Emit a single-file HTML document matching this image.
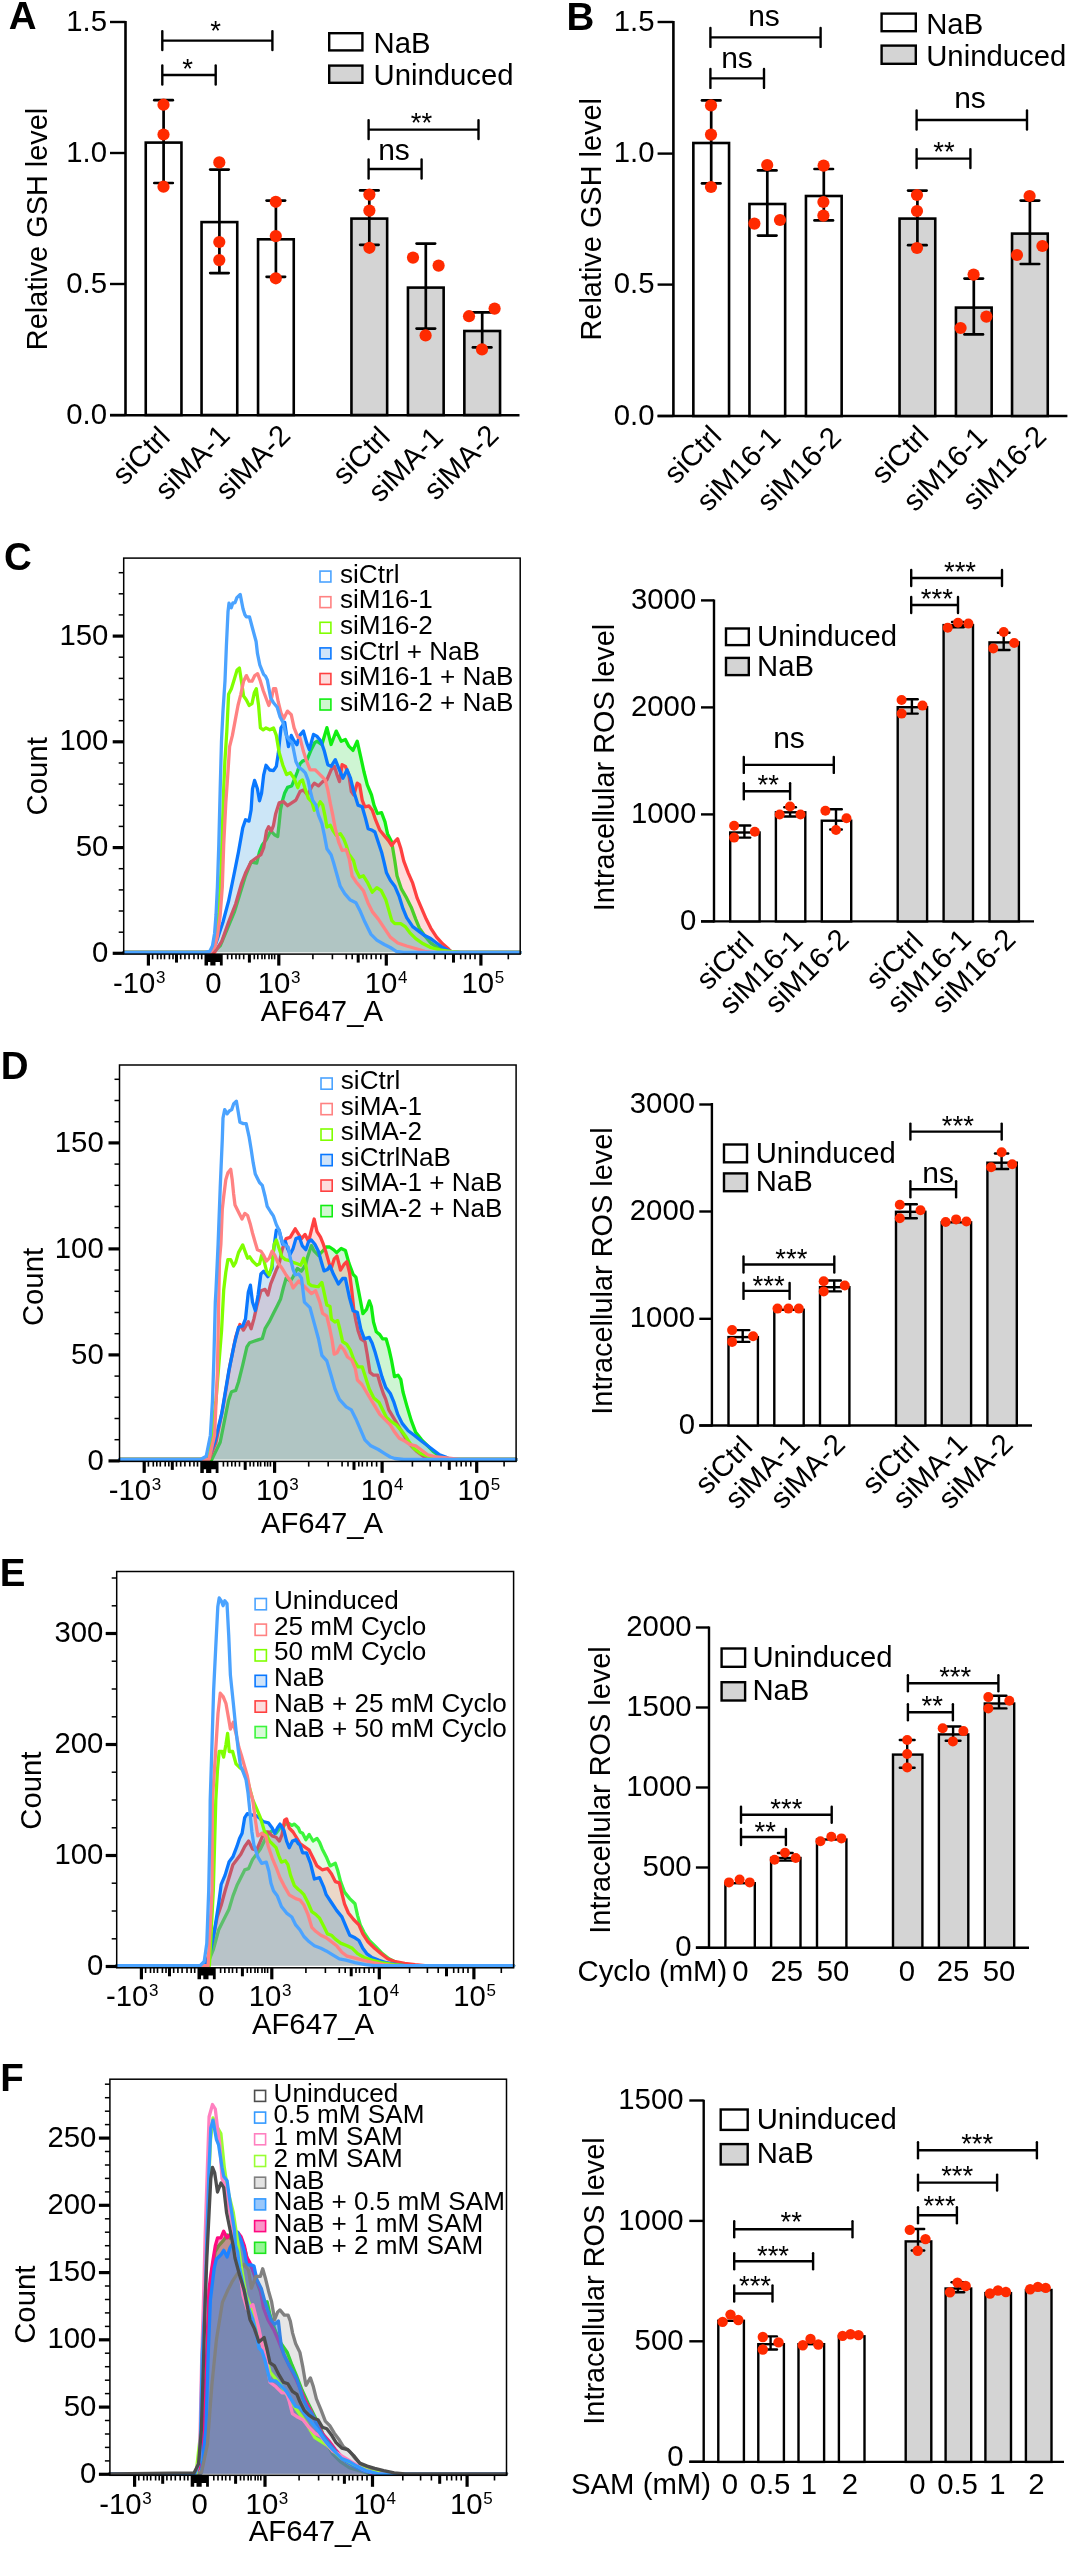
<!DOCTYPE html><html><head><meta charset="utf-8"><style>html,body{margin:0;padding:0;background:#fff;}svg{display:block;font-family:"Liberation Sans",sans-serif;-webkit-font-smoothing:antialiased;will-change:transform;}</style></head><body>
<svg width="1070" height="2550" viewBox="0 0 1070 2550">
<rect width="1070" height="2550" fill="#fff"/>
<text font-size="38.5" text-anchor="start" font-weight="bold" transform="translate(8.70,28.90) scale(1,1.0)">A</text>
<line x1="125.5" y1="21.0" x2="125.5" y2="416.0" stroke="#000" stroke-width="2.6" stroke-linecap="butt"/>
<line x1="110.0" y1="22.0" x2="125.5" y2="22.0" stroke="#000" stroke-width="2.4" stroke-linecap="butt"/>
<text font-size="29.3" text-anchor="end" font-weight="normal" transform="translate(107.00,30.60) scale(1,1.0)">1.5</text>
<line x1="110.0" y1="153.0" x2="125.5" y2="153.0" stroke="#000" stroke-width="2.4" stroke-linecap="butt"/>
<text font-size="29.3" text-anchor="end" font-weight="normal" transform="translate(107.00,161.60) scale(1,1.0)">1.0</text>
<line x1="110.0" y1="284.0" x2="125.5" y2="284.0" stroke="#000" stroke-width="2.4" stroke-linecap="butt"/>
<text font-size="29.3" text-anchor="end" font-weight="normal" transform="translate(107.00,292.60) scale(1,1.0)">0.5</text>
<line x1="110.0" y1="415.0" x2="125.5" y2="415.0" stroke="#000" stroke-width="2.4" stroke-linecap="butt"/>
<text font-size="29.3" text-anchor="end" font-weight="normal" transform="translate(107.00,423.60) scale(1,1.0)">0.0</text>
<line x1="110.0" y1="415.3" x2="519.5" y2="415.3" stroke="#000" stroke-width="2.6" stroke-linecap="butt"/>
<text font-size="28.9" text-anchor="middle" font-weight="normal" transform="translate(47.30,229.00) rotate(-90) scale(1,1.0)">Relative GSH level</text>
<rect x="145.75" y="142.60" width="35.70" height="272.40" fill="#fff" stroke="#000" stroke-width="2.6"/>
<rect x="201.55" y="222.10" width="35.70" height="192.90" fill="#fff" stroke="#000" stroke-width="2.6"/>
<rect x="258.05" y="239.30" width="35.70" height="175.70" fill="#fff" stroke="#000" stroke-width="2.6"/>
<rect x="351.45" y="218.60" width="35.70" height="196.40" fill="#d4d4d4" stroke="#000" stroke-width="2.6"/>
<rect x="407.95" y="287.60" width="35.70" height="127.40" fill="#d4d4d4" stroke="#000" stroke-width="2.6"/>
<rect x="464.35" y="331.00" width="35.70" height="84.00" fill="#d4d4d4" stroke="#000" stroke-width="2.6"/>
<line x1="163.6" y1="100.2" x2="163.6" y2="183.0" stroke="#000" stroke-width="2.7" stroke-linecap="butt"/>
<line x1="154.3" y1="100.2" x2="172.8" y2="100.2" stroke="#000" stroke-width="2.7" stroke-linecap="round"/>
<line x1="154.3" y1="183.0" x2="172.8" y2="183.0" stroke="#000" stroke-width="2.7" stroke-linecap="round"/>
<line x1="219.4" y1="169.6" x2="219.4" y2="273.1" stroke="#000" stroke-width="2.7" stroke-linecap="butt"/>
<line x1="210.2" y1="169.6" x2="228.7" y2="169.6" stroke="#000" stroke-width="2.7" stroke-linecap="round"/>
<line x1="210.2" y1="273.1" x2="228.7" y2="273.1" stroke="#000" stroke-width="2.7" stroke-linecap="round"/>
<line x1="275.9" y1="200.6" x2="275.9" y2="276.8" stroke="#000" stroke-width="2.7" stroke-linecap="butt"/>
<line x1="266.6" y1="200.6" x2="285.1" y2="200.6" stroke="#000" stroke-width="2.7" stroke-linecap="round"/>
<line x1="266.6" y1="276.8" x2="285.1" y2="276.8" stroke="#000" stroke-width="2.7" stroke-linecap="round"/>
<line x1="369.3" y1="190.4" x2="369.3" y2="244.8" stroke="#000" stroke-width="2.7" stroke-linecap="butt"/>
<line x1="360.1" y1="190.4" x2="378.6" y2="190.4" stroke="#000" stroke-width="2.7" stroke-linecap="round"/>
<line x1="360.1" y1="244.8" x2="378.6" y2="244.8" stroke="#000" stroke-width="2.7" stroke-linecap="round"/>
<line x1="425.8" y1="243.6" x2="425.8" y2="328.6" stroke="#000" stroke-width="2.7" stroke-linecap="butt"/>
<line x1="416.6" y1="243.6" x2="435.1" y2="243.6" stroke="#000" stroke-width="2.7" stroke-linecap="round"/>
<line x1="416.6" y1="328.6" x2="435.1" y2="328.6" stroke="#000" stroke-width="2.7" stroke-linecap="round"/>
<line x1="482.2" y1="312.4" x2="482.2" y2="347.4" stroke="#000" stroke-width="2.7" stroke-linecap="butt"/>
<line x1="472.9" y1="312.4" x2="491.4" y2="312.4" stroke="#000" stroke-width="2.7" stroke-linecap="round"/>
<line x1="472.9" y1="347.4" x2="491.4" y2="347.4" stroke="#000" stroke-width="2.7" stroke-linecap="round"/>
<circle cx="163.5" cy="104.7" r="6.1" fill="#ff2a00"/>
<circle cx="163.5" cy="134.5" r="6.1" fill="#ff2a00"/>
<circle cx="163.5" cy="186.7" r="6.1" fill="#ff2a00"/>
<circle cx="219.3" cy="162.4" r="6.1" fill="#ff2a00"/>
<circle cx="219.3" cy="242.0" r="6.1" fill="#ff2a00"/>
<circle cx="219.3" cy="260.1" r="6.1" fill="#ff2a00"/>
<circle cx="275.8" cy="201.8" r="6.1" fill="#ff2a00"/>
<circle cx="275.8" cy="236.1" r="6.1" fill="#ff2a00"/>
<circle cx="275.8" cy="278.3" r="6.1" fill="#ff2a00"/>
<circle cx="369.4" cy="194.6" r="6.1" fill="#ff2a00"/>
<circle cx="369.4" cy="210.6" r="6.1" fill="#ff2a00"/>
<circle cx="369.4" cy="247.8" r="6.1" fill="#ff2a00"/>
<circle cx="413.0" cy="257.6" r="6.1" fill="#ff2a00"/>
<circle cx="438.6" cy="265.6" r="6.1" fill="#ff2a00"/>
<circle cx="425.6" cy="335.4" r="6.1" fill="#ff2a00"/>
<circle cx="469.0" cy="316.2" r="6.1" fill="#ff2a00"/>
<circle cx="494.6" cy="308.6" r="6.1" fill="#ff2a00"/>
<circle cx="482.0" cy="349.4" r="6.1" fill="#ff2a00"/>
<line x1="162.3" y1="40.6" x2="272.4" y2="40.6" stroke="#000" stroke-width="2.4" stroke-linecap="butt"/>
<line x1="162.3" y1="31.1" x2="162.3" y2="50.1" stroke="#000" stroke-width="2.4" stroke-linecap="round"/>
<line x1="272.4" y1="31.1" x2="272.4" y2="50.1" stroke="#000" stroke-width="2.4" stroke-linecap="round"/>
<text font-size="27.5" text-anchor="middle" font-weight="normal" transform="translate(215.70,40.40) scale(1,1.0)">*</text>
<line x1="162.3" y1="75.0" x2="215.7" y2="75.0" stroke="#000" stroke-width="2.4" stroke-linecap="butt"/>
<line x1="162.3" y1="65.5" x2="162.3" y2="84.5" stroke="#000" stroke-width="2.4" stroke-linecap="round"/>
<line x1="215.7" y1="65.5" x2="215.7" y2="84.5" stroke="#000" stroke-width="2.4" stroke-linecap="round"/>
<text font-size="27.5" text-anchor="middle" font-weight="normal" transform="translate(187.50,77.50) scale(1,1.0)">*</text>
<line x1="368.6" y1="129.6" x2="478.5" y2="129.6" stroke="#000" stroke-width="2.4" stroke-linecap="butt"/>
<line x1="368.6" y1="120.1" x2="368.6" y2="139.1" stroke="#000" stroke-width="2.4" stroke-linecap="round"/>
<line x1="478.5" y1="120.1" x2="478.5" y2="139.1" stroke="#000" stroke-width="2.4" stroke-linecap="round"/>
<text font-size="27.5" text-anchor="middle" font-weight="normal" transform="translate(421.50,131.50) scale(1,1.0)">**</text>
<line x1="368.6" y1="169.0" x2="421.6" y2="169.0" stroke="#000" stroke-width="2.4" stroke-linecap="butt"/>
<line x1="368.6" y1="159.5" x2="368.6" y2="178.5" stroke="#000" stroke-width="2.4" stroke-linecap="round"/>
<line x1="421.6" y1="159.5" x2="421.6" y2="178.5" stroke="#000" stroke-width="2.4" stroke-linecap="round"/>
<text font-size="30" text-anchor="middle" font-weight="normal" transform="translate(394.00,160.00) scale(1,1.0)">ns</text>
<rect x="329.2" y="33.2" width="33.2" height="17.2" fill="#fff" stroke="#000" stroke-width="2.4"/>
<rect x="329.2" y="65.6" width="33.2" height="17.2" fill="#d4d4d4" stroke="#000" stroke-width="2.4"/>
<text font-size="29.3" text-anchor="start" font-weight="normal" transform="translate(373.50,53.00) scale(1,1.0)">NaB</text>
<text font-size="29.3" text-anchor="start" font-weight="normal" transform="translate(373.50,85.00) scale(1,1.0)">Uninduced</text>
<text font-size="29.3" text-anchor="end" font-weight="normal" transform="translate(171.50,439.00) rotate(-45) scale(1,1.0)">siCtrl</text>
<text font-size="29.3" text-anchor="end" font-weight="normal" transform="translate(231.40,437.00) rotate(-45) scale(1,1.0)">siMA-1</text>
<text font-size="29.3" text-anchor="end" font-weight="normal" transform="translate(291.90,437.00) rotate(-45) scale(1,1.0)">siMA-2</text>
<text font-size="29.3" text-anchor="end" font-weight="normal" transform="translate(391.60,439.00) rotate(-45) scale(1,1.0)">siCtrl</text>
<text font-size="29.3" text-anchor="end" font-weight="normal" transform="translate(444.80,439.00) rotate(-45) scale(1,1.0)">siMA-1</text>
<text font-size="29.3" text-anchor="end" font-weight="normal" transform="translate(500.20,437.00) rotate(-45) scale(1,1.0)">siMA-2</text>
<text font-size="38.5" text-anchor="start" font-weight="bold" transform="translate(566.50,30.00) scale(1,1.0)">B</text>
<line x1="673.4" y1="21.0" x2="673.4" y2="417.0" stroke="#000" stroke-width="2.6" stroke-linecap="butt"/>
<line x1="657.6" y1="22.0" x2="673.4" y2="22.0" stroke="#000" stroke-width="2.4" stroke-linecap="butt"/>
<text font-size="29.3" text-anchor="end" font-weight="normal" transform="translate(654.50,30.60) scale(1,1.0)">1.5</text>
<line x1="657.6" y1="153.6" x2="673.4" y2="153.6" stroke="#000" stroke-width="2.4" stroke-linecap="butt"/>
<text font-size="29.3" text-anchor="end" font-weight="normal" transform="translate(654.50,162.20) scale(1,1.0)">1.0</text>
<line x1="657.6" y1="284.6" x2="673.4" y2="284.6" stroke="#000" stroke-width="2.4" stroke-linecap="butt"/>
<text font-size="29.3" text-anchor="end" font-weight="normal" transform="translate(654.50,293.20) scale(1,1.0)">0.5</text>
<line x1="657.6" y1="416.0" x2="673.4" y2="416.0" stroke="#000" stroke-width="2.4" stroke-linecap="butt"/>
<text font-size="29.3" text-anchor="end" font-weight="normal" transform="translate(654.50,424.60) scale(1,1.0)">0.0</text>
<line x1="657.6" y1="416.0" x2="1067.4" y2="416.0" stroke="#000" stroke-width="2.6" stroke-linecap="butt"/>
<text font-size="28.9" text-anchor="middle" font-weight="normal" transform="translate(601.20,219.30) rotate(-90) scale(1,1.0)">Relative GSH level</text>
<rect x="693.35" y="143.00" width="35.70" height="273.00" fill="#fff" stroke="#000" stroke-width="2.6"/>
<rect x="749.45" y="204.00" width="35.70" height="212.00" fill="#fff" stroke="#000" stroke-width="2.6"/>
<rect x="805.95" y="196.00" width="35.70" height="220.00" fill="#fff" stroke="#000" stroke-width="2.6"/>
<rect x="899.55" y="218.60" width="35.70" height="197.40" fill="#d4d4d4" stroke="#000" stroke-width="2.6"/>
<rect x="955.95" y="307.60" width="35.70" height="108.40" fill="#d4d4d4" stroke="#000" stroke-width="2.6"/>
<rect x="1012.05" y="233.60" width="35.70" height="182.40" fill="#d4d4d4" stroke="#000" stroke-width="2.6"/>
<line x1="711.2" y1="100.4" x2="711.2" y2="183.4" stroke="#000" stroke-width="2.7" stroke-linecap="butt"/>
<line x1="702.0" y1="100.4" x2="720.5" y2="100.4" stroke="#000" stroke-width="2.7" stroke-linecap="round"/>
<line x1="702.0" y1="183.4" x2="720.5" y2="183.4" stroke="#000" stroke-width="2.7" stroke-linecap="round"/>
<line x1="767.3" y1="170.4" x2="767.3" y2="235.6" stroke="#000" stroke-width="2.7" stroke-linecap="butt"/>
<line x1="758.0" y1="170.4" x2="776.5" y2="170.4" stroke="#000" stroke-width="2.7" stroke-linecap="round"/>
<line x1="758.0" y1="235.6" x2="776.5" y2="235.6" stroke="#000" stroke-width="2.7" stroke-linecap="round"/>
<line x1="823.8" y1="169.0" x2="823.8" y2="220.4" stroke="#000" stroke-width="2.7" stroke-linecap="butt"/>
<line x1="814.5" y1="169.0" x2="833.0" y2="169.0" stroke="#000" stroke-width="2.7" stroke-linecap="round"/>
<line x1="814.5" y1="220.4" x2="833.0" y2="220.4" stroke="#000" stroke-width="2.7" stroke-linecap="round"/>
<line x1="917.4" y1="190.6" x2="917.4" y2="245.2" stroke="#000" stroke-width="2.7" stroke-linecap="butt"/>
<line x1="908.1" y1="190.6" x2="926.6" y2="190.6" stroke="#000" stroke-width="2.7" stroke-linecap="round"/>
<line x1="908.1" y1="245.2" x2="926.6" y2="245.2" stroke="#000" stroke-width="2.7" stroke-linecap="round"/>
<line x1="973.8" y1="278.6" x2="973.8" y2="334.4" stroke="#000" stroke-width="2.7" stroke-linecap="butt"/>
<line x1="964.5" y1="278.6" x2="983.0" y2="278.6" stroke="#000" stroke-width="2.7" stroke-linecap="round"/>
<line x1="964.5" y1="334.4" x2="983.0" y2="334.4" stroke="#000" stroke-width="2.7" stroke-linecap="round"/>
<line x1="1029.9" y1="200.6" x2="1029.9" y2="264.0" stroke="#000" stroke-width="2.7" stroke-linecap="butt"/>
<line x1="1020.7" y1="200.6" x2="1039.2" y2="200.6" stroke="#000" stroke-width="2.7" stroke-linecap="round"/>
<line x1="1020.7" y1="264.0" x2="1039.2" y2="264.0" stroke="#000" stroke-width="2.7" stroke-linecap="round"/>
<circle cx="711.0" cy="105.4" r="6.1" fill="#ff2a00"/>
<circle cx="711.0" cy="134.6" r="6.1" fill="#ff2a00"/>
<circle cx="711.0" cy="187.0" r="6.1" fill="#ff2a00"/>
<circle cx="767.2" cy="165.0" r="6.1" fill="#ff2a00"/>
<circle cx="754.4" cy="223.6" r="6.1" fill="#ff2a00"/>
<circle cx="780.0" cy="220.0" r="6.1" fill="#ff2a00"/>
<circle cx="823.6" cy="165.6" r="6.1" fill="#ff2a00"/>
<circle cx="823.4" cy="202.0" r="6.1" fill="#ff2a00"/>
<circle cx="823.4" cy="215.6" r="6.1" fill="#ff2a00"/>
<circle cx="917.0" cy="195.0" r="6.1" fill="#ff2a00"/>
<circle cx="917.0" cy="211.0" r="6.1" fill="#ff2a00"/>
<circle cx="917.0" cy="248.0" r="6.1" fill="#ff2a00"/>
<circle cx="973.6" cy="274.6" r="6.1" fill="#ff2a00"/>
<circle cx="986.4" cy="316.6" r="6.1" fill="#ff2a00"/>
<circle cx="960.6" cy="328.0" r="6.1" fill="#ff2a00"/>
<circle cx="1029.6" cy="196.0" r="6.1" fill="#ff2a00"/>
<circle cx="1042.4" cy="246.0" r="6.1" fill="#ff2a00"/>
<circle cx="1017.0" cy="255.0" r="6.1" fill="#ff2a00"/>
<line x1="710.4" y1="37.4" x2="820.6" y2="37.4" stroke="#000" stroke-width="2.4" stroke-linecap="butt"/>
<line x1="710.4" y1="27.9" x2="710.4" y2="46.9" stroke="#000" stroke-width="2.4" stroke-linecap="round"/>
<line x1="820.6" y1="27.9" x2="820.6" y2="46.9" stroke="#000" stroke-width="2.4" stroke-linecap="round"/>
<text font-size="30" text-anchor="middle" font-weight="normal" transform="translate(764.00,25.60) scale(1,1.0)">ns</text>
<line x1="710.4" y1="78.4" x2="764.0" y2="78.4" stroke="#000" stroke-width="2.4" stroke-linecap="butt"/>
<line x1="710.4" y1="68.9" x2="710.4" y2="87.9" stroke="#000" stroke-width="2.4" stroke-linecap="round"/>
<line x1="764.0" y1="68.9" x2="764.0" y2="87.9" stroke="#000" stroke-width="2.4" stroke-linecap="round"/>
<text font-size="30" text-anchor="middle" font-weight="normal" transform="translate(737.00,68.00) scale(1,1.0)">ns</text>
<line x1="916.6" y1="120.0" x2="1027.0" y2="120.0" stroke="#000" stroke-width="2.4" stroke-linecap="butt"/>
<line x1="916.6" y1="110.5" x2="916.6" y2="129.5" stroke="#000" stroke-width="2.4" stroke-linecap="round"/>
<line x1="1027.0" y1="110.5" x2="1027.0" y2="129.5" stroke="#000" stroke-width="2.4" stroke-linecap="round"/>
<text font-size="30" text-anchor="middle" font-weight="normal" transform="translate(970.00,108.00) scale(1,1.0)">ns</text>
<line x1="916.6" y1="158.6" x2="970.4" y2="158.6" stroke="#000" stroke-width="2.4" stroke-linecap="butt"/>
<line x1="916.6" y1="149.1" x2="916.6" y2="168.1" stroke="#000" stroke-width="2.4" stroke-linecap="round"/>
<line x1="970.4" y1="149.1" x2="970.4" y2="168.1" stroke="#000" stroke-width="2.4" stroke-linecap="round"/>
<text font-size="27.5" text-anchor="middle" font-weight="normal" transform="translate(944.00,161.40) scale(1,1.0)">**</text>
<rect x="881.6" y="13.6" width="34.2" height="17.6" fill="#fff" stroke="#000" stroke-width="2.4"/>
<rect x="881.6" y="45.6" width="34.2" height="18.2" fill="#d4d4d4" stroke="#000" stroke-width="2.4"/>
<text font-size="29.3" text-anchor="start" font-weight="normal" transform="translate(926.20,34.00) scale(1,1.0)">NaB</text>
<text font-size="29.3" text-anchor="start" font-weight="normal" transform="translate(926.20,66.00) scale(1,1.0)">Uninduced</text>
<text font-size="29.3" text-anchor="end" font-weight="normal" transform="translate(723.20,438.00) rotate(-45) scale(1,1.0)">siCtrl</text>
<text font-size="29.3" text-anchor="end" font-weight="normal" transform="translate(782.30,439.00) rotate(-45) scale(1,1.0)">siM16-1</text>
<text font-size="29.3" text-anchor="end" font-weight="normal" transform="translate(842.80,439.00) rotate(-45) scale(1,1.0)">siM16-2</text>
<text font-size="29.3" text-anchor="end" font-weight="normal" transform="translate(930.40,438.00) rotate(-45) scale(1,1.0)">siCtrl</text>
<text font-size="29.3" text-anchor="end" font-weight="normal" transform="translate(988.80,439.00) rotate(-45) scale(1,1.0)">siM16-1</text>
<text font-size="29.3" text-anchor="end" font-weight="normal" transform="translate(1047.90,438.00) rotate(-45) scale(1,1.0)">siM16-2</text>
<line x1="714.0" y1="599.4" x2="714.0" y2="922.4" stroke="#000" stroke-width="2.4" stroke-linecap="butt"/>
<line x1="701.0" y1="600.4" x2="714.0" y2="600.4" stroke="#000" stroke-width="2.4" stroke-linecap="butt"/>
<text font-size="29.3" text-anchor="end" font-weight="normal" transform="translate(696.20,609.00) scale(1,1.0)">3000</text>
<line x1="701.0" y1="707.4" x2="714.0" y2="707.4" stroke="#000" stroke-width="2.4" stroke-linecap="butt"/>
<text font-size="29.3" text-anchor="end" font-weight="normal" transform="translate(696.20,716.00) scale(1,1.0)">2000</text>
<line x1="701.0" y1="814.4" x2="714.0" y2="814.4" stroke="#000" stroke-width="2.4" stroke-linecap="butt"/>
<text font-size="29.3" text-anchor="end" font-weight="normal" transform="translate(696.20,823.00) scale(1,1.0)">1000</text>
<line x1="701.0" y1="921.4" x2="714.0" y2="921.4" stroke="#000" stroke-width="2.4" stroke-linecap="butt"/>
<text font-size="29.3" text-anchor="end" font-weight="normal" transform="translate(696.20,930.00) scale(1,1.0)">0</text>
<line x1="701.0" y1="921.4" x2="1034.0" y2="921.4" stroke="#000" stroke-width="2.4" stroke-linecap="butt"/>
<text font-size="28.9" text-anchor="middle" font-weight="normal" transform="translate(614.30,767.50) rotate(-90) scale(1,1.0)">Intracellular ROS level</text>
<rect x="730.20" y="832.50" width="29.40" height="88.90" fill="#fff" stroke="#000" stroke-width="2.4"/>
<rect x="775.90" y="812.30" width="29.40" height="109.10" fill="#fff" stroke="#000" stroke-width="2.4"/>
<rect x="821.80" y="820.70" width="29.40" height="100.70" fill="#fff" stroke="#000" stroke-width="2.4"/>
<rect x="897.70" y="707.20" width="29.40" height="214.20" fill="#d4d4d4" stroke="#000" stroke-width="2.4"/>
<rect x="943.60" y="625.10" width="29.40" height="296.30" fill="#d4d4d4" stroke="#000" stroke-width="2.4"/>
<rect x="989.50" y="642.40" width="29.40" height="279.00" fill="#d4d4d4" stroke="#000" stroke-width="2.4"/>
<line x1="744.4" y1="825.5" x2="744.4" y2="837.6" stroke="#000" stroke-width="2.4" stroke-linecap="butt"/>
<line x1="738.6" y1="825.5" x2="750.2" y2="825.5" stroke="#000" stroke-width="2.4" stroke-linecap="round"/>
<line x1="738.6" y1="837.6" x2="750.2" y2="837.6" stroke="#000" stroke-width="2.4" stroke-linecap="round"/>
<line x1="790.1" y1="807.3" x2="790.1" y2="816.5" stroke="#000" stroke-width="2.4" stroke-linecap="butt"/>
<line x1="784.3" y1="807.3" x2="795.9" y2="807.3" stroke="#000" stroke-width="2.4" stroke-linecap="round"/>
<line x1="784.3" y1="816.5" x2="795.9" y2="816.5" stroke="#000" stroke-width="2.4" stroke-linecap="round"/>
<line x1="836.0" y1="809.3" x2="836.0" y2="829.5" stroke="#000" stroke-width="2.4" stroke-linecap="butt"/>
<line x1="830.2" y1="809.3" x2="841.8" y2="809.3" stroke="#000" stroke-width="2.4" stroke-linecap="round"/>
<line x1="830.2" y1="829.5" x2="841.8" y2="829.5" stroke="#000" stroke-width="2.4" stroke-linecap="round"/>
<line x1="911.9" y1="699.3" x2="911.9" y2="713.6" stroke="#000" stroke-width="2.4" stroke-linecap="butt"/>
<line x1="906.1" y1="699.3" x2="917.7" y2="699.3" stroke="#000" stroke-width="2.4" stroke-linecap="round"/>
<line x1="906.1" y1="713.6" x2="917.7" y2="713.6" stroke="#000" stroke-width="2.4" stroke-linecap="round"/>
<line x1="957.8" y1="622.0" x2="957.8" y2="627.3" stroke="#000" stroke-width="2.4" stroke-linecap="butt"/>
<line x1="952.0" y1="622.0" x2="963.6" y2="622.0" stroke="#000" stroke-width="2.4" stroke-linecap="round"/>
<line x1="952.0" y1="627.3" x2="963.6" y2="627.3" stroke="#000" stroke-width="2.4" stroke-linecap="round"/>
<line x1="1003.7" y1="632.7" x2="1003.7" y2="650.0" stroke="#000" stroke-width="2.4" stroke-linecap="butt"/>
<line x1="997.9" y1="632.7" x2="1009.5" y2="632.7" stroke="#000" stroke-width="2.4" stroke-linecap="round"/>
<line x1="997.9" y1="650.0" x2="1009.5" y2="650.0" stroke="#000" stroke-width="2.4" stroke-linecap="round"/>
<circle cx="734.1" cy="825.8" r="5" fill="#ff2a00"/>
<circle cx="754.8" cy="831.7" r="5" fill="#ff2a00"/>
<circle cx="734.1" cy="837.6" r="5" fill="#ff2a00"/>
<circle cx="790.0" cy="806.5" r="5" fill="#ff2a00"/>
<circle cx="779.7" cy="814.5" r="5" fill="#ff2a00"/>
<circle cx="800.5" cy="814.5" r="5" fill="#ff2a00"/>
<circle cx="825.4" cy="810.7" r="5" fill="#ff2a00"/>
<circle cx="846.5" cy="818.2" r="5" fill="#ff2a00"/>
<circle cx="836.0" cy="830.0" r="5" fill="#ff2a00"/>
<circle cx="901.6" cy="700.0" r="5" fill="#ff2a00"/>
<circle cx="922.5" cy="705.6" r="5" fill="#ff2a00"/>
<circle cx="901.6" cy="713.6" r="5" fill="#ff2a00"/>
<circle cx="947.7" cy="627.7" r="5" fill="#ff2a00"/>
<circle cx="958.0" cy="622.8" r="5" fill="#ff2a00"/>
<circle cx="968.4" cy="623.6" r="5" fill="#ff2a00"/>
<circle cx="1003.7" cy="632.0" r="5" fill="#ff2a00"/>
<circle cx="1014.2" cy="643.0" r="5" fill="#ff2a00"/>
<circle cx="993.3" cy="648.4" r="5" fill="#ff2a00"/>
<line x1="743.8" y1="764.9" x2="833.8" y2="764.9" stroke="#000" stroke-width="2.4" stroke-linecap="butt"/>
<line x1="743.8" y1="756.9" x2="743.8" y2="772.9" stroke="#000" stroke-width="2.4" stroke-linecap="round"/>
<line x1="833.8" y1="756.9" x2="833.8" y2="772.9" stroke="#000" stroke-width="2.4" stroke-linecap="round"/>
<text font-size="30" text-anchor="middle" font-weight="normal" transform="translate(789.00,748.40) scale(1,1.0)">ns</text>
<line x1="743.8" y1="791.3" x2="790.1" y2="791.3" stroke="#000" stroke-width="2.4" stroke-linecap="butt"/>
<line x1="743.8" y1="783.3" x2="743.8" y2="799.3" stroke="#000" stroke-width="2.4" stroke-linecap="round"/>
<line x1="790.1" y1="783.3" x2="790.1" y2="799.3" stroke="#000" stroke-width="2.4" stroke-linecap="round"/>
<text font-size="27.5" text-anchor="middle" font-weight="normal" transform="translate(768.20,794.30) scale(1,1.0)">**</text>
<line x1="911.2" y1="578.0" x2="1002.0" y2="578.0" stroke="#000" stroke-width="2.4" stroke-linecap="butt"/>
<line x1="911.2" y1="570.0" x2="911.2" y2="586.0" stroke="#000" stroke-width="2.4" stroke-linecap="round"/>
<line x1="1002.0" y1="570.0" x2="1002.0" y2="586.0" stroke="#000" stroke-width="2.4" stroke-linecap="round"/>
<text font-size="27.5" text-anchor="middle" font-weight="normal" transform="translate(960.00,580.70) scale(1,1.0)">***</text>
<line x1="911.2" y1="605.0" x2="958.0" y2="605.0" stroke="#000" stroke-width="2.4" stroke-linecap="butt"/>
<line x1="911.2" y1="597.0" x2="911.2" y2="613.0" stroke="#000" stroke-width="2.4" stroke-linecap="round"/>
<line x1="958.0" y1="597.0" x2="958.0" y2="613.0" stroke="#000" stroke-width="2.4" stroke-linecap="round"/>
<text font-size="27.5" text-anchor="middle" font-weight="normal" transform="translate(936.90,607.60) scale(1,1.0)">***</text>
<rect x="726.0" y="628.5" width="22.8" height="16.6" fill="#fff" stroke="#000" stroke-width="2.4"/>
<rect x="726.0" y="657.9" width="22.8" height="17.2" fill="#d4d4d4" stroke="#000" stroke-width="2.4"/>
<text font-size="29.3" text-anchor="start" font-weight="normal" transform="translate(757.00,646.20) scale(1,1.0)">Uninduced</text>
<text font-size="29.3" text-anchor="start" font-weight="normal" transform="translate(757.00,676.00) scale(1,1.0)">NaB</text>
<text font-size="29.3" text-anchor="end" font-weight="normal" transform="translate(755.40,944.00) rotate(-45) scale(1,1.0)">siCtrl</text>
<text font-size="29.3" text-anchor="end" font-weight="normal" transform="translate(804.60,942.00) rotate(-45) scale(1,1.0)">siM16-1</text>
<text font-size="29.3" text-anchor="end" font-weight="normal" transform="translate(850.50,941.00) rotate(-45) scale(1,1.0)">siM16-2</text>
<text font-size="29.3" text-anchor="end" font-weight="normal" transform="translate(924.90,944.00) rotate(-45) scale(1,1.0)">siCtrl</text>
<text font-size="29.3" text-anchor="end" font-weight="normal" transform="translate(972.80,941.00) rotate(-45) scale(1,1.0)">siM16-1</text>
<text font-size="29.3" text-anchor="end" font-weight="normal" transform="translate(1017.20,941.00) rotate(-45) scale(1,1.0)">siM16-2</text>
<line x1="711.9" y1="1103.0" x2="711.9" y2="1426.5" stroke="#000" stroke-width="2.4" stroke-linecap="butt"/>
<line x1="699.3" y1="1104.5" x2="711.9" y2="1104.5" stroke="#000" stroke-width="2.4" stroke-linecap="butt"/>
<text font-size="29.3" text-anchor="end" font-weight="normal" transform="translate(695.00,1113.10) scale(1,1.0)">3000</text>
<line x1="699.3" y1="1211.5" x2="711.9" y2="1211.5" stroke="#000" stroke-width="2.4" stroke-linecap="butt"/>
<text font-size="29.3" text-anchor="end" font-weight="normal" transform="translate(695.00,1220.10) scale(1,1.0)">2000</text>
<line x1="699.3" y1="1318.8" x2="711.9" y2="1318.8" stroke="#000" stroke-width="2.4" stroke-linecap="butt"/>
<text font-size="29.3" text-anchor="end" font-weight="normal" transform="translate(695.00,1327.40) scale(1,1.0)">1000</text>
<line x1="699.3" y1="1425.5" x2="711.9" y2="1425.5" stroke="#000" stroke-width="2.4" stroke-linecap="butt"/>
<text font-size="29.3" text-anchor="end" font-weight="normal" transform="translate(695.00,1434.10) scale(1,1.0)">0</text>
<line x1="699.3" y1="1425.5" x2="1032.0" y2="1425.5" stroke="#000" stroke-width="2.4" stroke-linecap="butt"/>
<text font-size="28.9" text-anchor="middle" font-weight="normal" transform="translate(612.00,1271.00) rotate(-90) scale(1,1.0)">Intracellular ROS level</text>
<rect x="728.50" y="1337.10" width="29.40" height="88.40" fill="#fff" stroke="#000" stroke-width="2.4"/>
<rect x="774.30" y="1309.80" width="29.40" height="115.70" fill="#fff" stroke="#000" stroke-width="2.4"/>
<rect x="820.00" y="1287.20" width="29.40" height="138.30" fill="#fff" stroke="#000" stroke-width="2.4"/>
<rect x="896.00" y="1211.80" width="29.40" height="213.70" fill="#d4d4d4" stroke="#000" stroke-width="2.4"/>
<rect x="941.70" y="1222.30" width="29.40" height="203.20" fill="#d4d4d4" stroke="#000" stroke-width="2.4"/>
<rect x="987.40" y="1162.70" width="29.40" height="262.80" fill="#d4d4d4" stroke="#000" stroke-width="2.4"/>
<line x1="742.7" y1="1330.1" x2="742.7" y2="1341.9" stroke="#000" stroke-width="2.4" stroke-linecap="butt"/>
<line x1="736.1" y1="1330.1" x2="749.3" y2="1330.1" stroke="#000" stroke-width="2.4" stroke-linecap="round"/>
<line x1="736.1" y1="1341.9" x2="749.3" y2="1341.9" stroke="#000" stroke-width="2.4" stroke-linecap="round"/>
<line x1="834.2" y1="1280.5" x2="834.2" y2="1291.4" stroke="#000" stroke-width="2.4" stroke-linecap="butt"/>
<line x1="827.6" y1="1280.5" x2="840.8" y2="1280.5" stroke="#000" stroke-width="2.4" stroke-linecap="round"/>
<line x1="827.6" y1="1291.4" x2="840.8" y2="1291.4" stroke="#000" stroke-width="2.4" stroke-linecap="round"/>
<line x1="910.2" y1="1204.3" x2="910.2" y2="1218.3" stroke="#000" stroke-width="2.4" stroke-linecap="butt"/>
<line x1="903.6" y1="1204.3" x2="916.8" y2="1204.3" stroke="#000" stroke-width="2.4" stroke-linecap="round"/>
<line x1="903.6" y1="1218.3" x2="916.8" y2="1218.3" stroke="#000" stroke-width="2.4" stroke-linecap="round"/>
<line x1="1001.6" y1="1153.5" x2="1001.6" y2="1169.0" stroke="#000" stroke-width="2.4" stroke-linecap="butt"/>
<line x1="995.0" y1="1153.5" x2="1008.2" y2="1153.5" stroke="#000" stroke-width="2.4" stroke-linecap="round"/>
<line x1="995.0" y1="1169.0" x2="1008.2" y2="1169.0" stroke="#000" stroke-width="2.4" stroke-linecap="round"/>
<circle cx="732.1" cy="1330.1" r="5" fill="#ff2a00"/>
<circle cx="753.1" cy="1336.3" r="5" fill="#ff2a00"/>
<circle cx="732.1" cy="1341.9" r="5" fill="#ff2a00"/>
<circle cx="777.5" cy="1308.6" r="5" fill="#ff2a00"/>
<circle cx="788.4" cy="1308.6" r="5" fill="#ff2a00"/>
<circle cx="798.8" cy="1308.6" r="5" fill="#ff2a00"/>
<circle cx="823.7" cy="1281.3" r="5" fill="#ff2a00"/>
<circle cx="844.8" cy="1285.5" r="5" fill="#ff2a00"/>
<circle cx="823.7" cy="1291.4" r="5" fill="#ff2a00"/>
<circle cx="899.8" cy="1204.8" r="5" fill="#ff2a00"/>
<circle cx="920.5" cy="1210.2" r="5" fill="#ff2a00"/>
<circle cx="899.8" cy="1218.3" r="5" fill="#ff2a00"/>
<circle cx="945.7" cy="1222.0" r="5" fill="#ff2a00"/>
<circle cx="956.1" cy="1219.4" r="5" fill="#ff2a00"/>
<circle cx="966.4" cy="1221.5" r="5" fill="#ff2a00"/>
<circle cx="1001.6" cy="1152.2" r="5" fill="#ff2a00"/>
<circle cx="1012.2" cy="1164.3" r="5" fill="#ff2a00"/>
<circle cx="991.1" cy="1167.3" r="5" fill="#ff2a00"/>
<line x1="743.5" y1="1264.5" x2="834.3" y2="1264.5" stroke="#000" stroke-width="2.4" stroke-linecap="butt"/>
<line x1="743.5" y1="1256.5" x2="743.5" y2="1272.5" stroke="#000" stroke-width="2.4" stroke-linecap="round"/>
<line x1="834.3" y1="1256.5" x2="834.3" y2="1272.5" stroke="#000" stroke-width="2.4" stroke-linecap="round"/>
<text font-size="27.5" text-anchor="middle" font-weight="normal" transform="translate(791.30,1268.30) scale(1,1.0)">***</text>
<line x1="743.5" y1="1290.9" x2="789.6" y2="1290.9" stroke="#000" stroke-width="2.4" stroke-linecap="butt"/>
<line x1="743.5" y1="1282.9" x2="743.5" y2="1298.9" stroke="#000" stroke-width="2.4" stroke-linecap="round"/>
<line x1="789.6" y1="1282.9" x2="789.6" y2="1298.9" stroke="#000" stroke-width="2.4" stroke-linecap="round"/>
<text font-size="27.5" text-anchor="middle" font-weight="normal" transform="translate(768.60,1294.80) scale(1,1.0)">***</text>
<line x1="910.4" y1="1131.6" x2="1001.7" y2="1131.6" stroke="#000" stroke-width="2.4" stroke-linecap="butt"/>
<line x1="910.4" y1="1123.6" x2="910.4" y2="1139.6" stroke="#000" stroke-width="2.4" stroke-linecap="round"/>
<line x1="1001.7" y1="1123.6" x2="1001.7" y2="1139.6" stroke="#000" stroke-width="2.4" stroke-linecap="round"/>
<text font-size="27.5" text-anchor="middle" font-weight="normal" transform="translate(957.90,1135.00) scale(1,1.0)">***</text>
<line x1="910.4" y1="1189.2" x2="956.1" y2="1189.2" stroke="#000" stroke-width="2.4" stroke-linecap="butt"/>
<line x1="910.4" y1="1181.2" x2="910.4" y2="1197.2" stroke="#000" stroke-width="2.4" stroke-linecap="round"/>
<line x1="956.1" y1="1181.2" x2="956.1" y2="1197.2" stroke="#000" stroke-width="2.4" stroke-linecap="round"/>
<text font-size="30" text-anchor="middle" font-weight="normal" transform="translate(938.10,1182.80) scale(1,1.0)">ns</text>
<rect x="724.0" y="1144.5" width="23.0" height="17.8" fill="#fff" stroke="#000" stroke-width="2.4"/>
<rect x="724.0" y="1173.4" width="23.0" height="17.8" fill="#d4d4d4" stroke="#000" stroke-width="2.4"/>
<text font-size="29.3" text-anchor="start" font-weight="normal" transform="translate(755.70,1162.70) scale(1,1.0)">Uninduced</text>
<text font-size="29.3" text-anchor="start" font-weight="normal" transform="translate(755.70,1191.20) scale(1,1.0)">NaB</text>
<text font-size="29.3" text-anchor="end" font-weight="normal" transform="translate(754.20,1448.50) rotate(-45) scale(1,1.0)">siCtrl</text>
<text font-size="29.3" text-anchor="end" font-weight="normal" transform="translate(801.50,1446.00) rotate(-45) scale(1,1.0)">siMA-1</text>
<text font-size="29.3" text-anchor="end" font-weight="normal" transform="translate(846.70,1446.00) rotate(-45) scale(1,1.0)">siMA-2</text>
<text font-size="29.3" text-anchor="end" font-weight="normal" transform="translate(921.20,1448.50) rotate(-45) scale(1,1.0)">siCtrl</text>
<text font-size="29.3" text-anchor="end" font-weight="normal" transform="translate(968.90,1446.00) rotate(-45) scale(1,1.0)">siMA-1</text>
<text font-size="29.3" text-anchor="end" font-weight="normal" transform="translate(1014.60,1446.00) rotate(-45) scale(1,1.0)">siMA-2</text>
<line x1="709.0" y1="1626.5" x2="709.0" y2="1948.7" stroke="#000" stroke-width="2.4" stroke-linecap="butt"/>
<line x1="695.9" y1="1627.5" x2="709.0" y2="1627.5" stroke="#000" stroke-width="2.4" stroke-linecap="butt"/>
<text font-size="29.3" text-anchor="end" font-weight="normal" transform="translate(691.50,1636.10) scale(1,1.0)">2000</text>
<line x1="695.9" y1="1707.5" x2="709.0" y2="1707.5" stroke="#000" stroke-width="2.4" stroke-linecap="butt"/>
<text font-size="29.3" text-anchor="end" font-weight="normal" transform="translate(691.50,1716.10) scale(1,1.0)">1500</text>
<line x1="695.9" y1="1787.5" x2="709.0" y2="1787.5" stroke="#000" stroke-width="2.4" stroke-linecap="butt"/>
<text font-size="29.3" text-anchor="end" font-weight="normal" transform="translate(691.50,1796.10) scale(1,1.0)">1000</text>
<line x1="695.9" y1="1867.5" x2="709.0" y2="1867.5" stroke="#000" stroke-width="2.4" stroke-linecap="butt"/>
<text font-size="29.3" text-anchor="end" font-weight="normal" transform="translate(691.50,1876.10) scale(1,1.0)">500</text>
<line x1="695.9" y1="1947.6" x2="709.0" y2="1947.6" stroke="#000" stroke-width="2.4" stroke-linecap="butt"/>
<text font-size="29.3" text-anchor="end" font-weight="normal" transform="translate(691.50,1956.20) scale(1,1.0)">0</text>
<line x1="695.9" y1="1947.7" x2="1029.0" y2="1947.7" stroke="#000" stroke-width="2.4" stroke-linecap="butt"/>
<text font-size="28.9" text-anchor="middle" font-weight="normal" transform="translate(610.00,1790.00) rotate(-90) scale(1,1.0)">Intracellular ROS level</text>
<rect x="725.40" y="1883.20" width="29.40" height="64.50" fill="#fff" stroke="#000" stroke-width="2.4"/>
<rect x="771.10" y="1858.00" width="29.40" height="89.70" fill="#fff" stroke="#000" stroke-width="2.4"/>
<rect x="817.00" y="1839.50" width="29.40" height="108.20" fill="#fff" stroke="#000" stroke-width="2.4"/>
<rect x="893.00" y="1754.60" width="29.40" height="193.10" fill="#d4d4d4" stroke="#000" stroke-width="2.4"/>
<rect x="938.90" y="1734.40" width="29.40" height="213.30" fill="#d4d4d4" stroke="#000" stroke-width="2.4"/>
<rect x="984.80" y="1703.50" width="29.40" height="244.20" fill="#d4d4d4" stroke="#000" stroke-width="2.4"/>
<line x1="785.3" y1="1853.0" x2="785.3" y2="1860.6" stroke="#000" stroke-width="2.4" stroke-linecap="butt"/>
<line x1="777.9" y1="1853.0" x2="792.7" y2="1853.0" stroke="#000" stroke-width="2.4" stroke-linecap="round"/>
<line x1="777.9" y1="1860.6" x2="792.7" y2="1860.6" stroke="#000" stroke-width="2.4" stroke-linecap="round"/>
<line x1="907.2" y1="1740.0" x2="907.2" y2="1767.8" stroke="#000" stroke-width="2.4" stroke-linecap="butt"/>
<line x1="899.8" y1="1740.0" x2="914.6" y2="1740.0" stroke="#000" stroke-width="2.4" stroke-linecap="round"/>
<line x1="899.8" y1="1767.8" x2="914.6" y2="1767.8" stroke="#000" stroke-width="2.4" stroke-linecap="round"/>
<line x1="953.1" y1="1726.5" x2="953.1" y2="1740.8" stroke="#000" stroke-width="2.4" stroke-linecap="butt"/>
<line x1="945.7" y1="1726.5" x2="960.5" y2="1726.5" stroke="#000" stroke-width="2.4" stroke-linecap="round"/>
<line x1="945.7" y1="1740.8" x2="960.5" y2="1740.8" stroke="#000" stroke-width="2.4" stroke-linecap="round"/>
<line x1="999.0" y1="1695.8" x2="999.0" y2="1708.4" stroke="#000" stroke-width="2.4" stroke-linecap="butt"/>
<line x1="991.6" y1="1695.8" x2="1006.4" y2="1695.8" stroke="#000" stroke-width="2.4" stroke-linecap="round"/>
<line x1="991.6" y1="1708.4" x2="1006.4" y2="1708.4" stroke="#000" stroke-width="2.4" stroke-linecap="round"/>
<circle cx="729.0" cy="1882.4" r="5" fill="#ff2a00"/>
<circle cx="739.6" cy="1879.6" r="5" fill="#ff2a00"/>
<circle cx="749.7" cy="1882.4" r="5" fill="#ff2a00"/>
<circle cx="774.6" cy="1859.7" r="5" fill="#ff2a00"/>
<circle cx="785.0" cy="1852.7" r="5" fill="#ff2a00"/>
<circle cx="795.7" cy="1858.0" r="5" fill="#ff2a00"/>
<circle cx="820.4" cy="1841.2" r="5" fill="#ff2a00"/>
<circle cx="831.3" cy="1836.7" r="5" fill="#ff2a00"/>
<circle cx="841.4" cy="1838.4" r="5" fill="#ff2a00"/>
<circle cx="907.2" cy="1740.0" r="5" fill="#ff2a00"/>
<circle cx="907.2" cy="1754.0" r="5" fill="#ff2a00"/>
<circle cx="907.2" cy="1767.4" r="5" fill="#ff2a00"/>
<circle cx="942.7" cy="1728.2" r="5" fill="#ff2a00"/>
<circle cx="963.4" cy="1731.1" r="5" fill="#ff2a00"/>
<circle cx="952.9" cy="1741.4" r="5" fill="#ff2a00"/>
<circle cx="988.3" cy="1697.1" r="5" fill="#ff2a00"/>
<circle cx="1009.3" cy="1700.8" r="5" fill="#ff2a00"/>
<circle cx="988.3" cy="1708.4" r="5" fill="#ff2a00"/>
<line x1="741.0" y1="1814.8" x2="831.7" y2="1814.8" stroke="#000" stroke-width="2.4" stroke-linecap="butt"/>
<line x1="741.0" y1="1806.8" x2="741.0" y2="1822.8" stroke="#000" stroke-width="2.4" stroke-linecap="round"/>
<line x1="831.7" y1="1806.8" x2="831.7" y2="1822.8" stroke="#000" stroke-width="2.4" stroke-linecap="round"/>
<text font-size="27.5" text-anchor="middle" font-weight="normal" transform="translate(786.40,1818.30) scale(1,1.0)">***</text>
<line x1="741.0" y1="1837.0" x2="785.9" y2="1837.0" stroke="#000" stroke-width="2.4" stroke-linecap="butt"/>
<line x1="741.0" y1="1829.0" x2="741.0" y2="1845.0" stroke="#000" stroke-width="2.4" stroke-linecap="round"/>
<line x1="785.9" y1="1829.0" x2="785.9" y2="1845.0" stroke="#000" stroke-width="2.4" stroke-linecap="round"/>
<text font-size="27.5" text-anchor="middle" font-weight="normal" transform="translate(765.20,1840.90) scale(1,1.0)">**</text>
<line x1="907.9" y1="1683.3" x2="998.4" y2="1683.3" stroke="#000" stroke-width="2.4" stroke-linecap="butt"/>
<line x1="907.9" y1="1675.3" x2="907.9" y2="1691.3" stroke="#000" stroke-width="2.4" stroke-linecap="round"/>
<line x1="998.4" y1="1675.3" x2="998.4" y2="1691.3" stroke="#000" stroke-width="2.4" stroke-linecap="round"/>
<text font-size="27.5" text-anchor="middle" font-weight="normal" transform="translate(955.20,1685.80) scale(1,1.0)">***</text>
<line x1="907.9" y1="1712.2" x2="952.9" y2="1712.2" stroke="#000" stroke-width="2.4" stroke-linecap="butt"/>
<line x1="907.9" y1="1704.2" x2="907.9" y2="1720.2" stroke="#000" stroke-width="2.4" stroke-linecap="round"/>
<line x1="952.9" y1="1704.2" x2="952.9" y2="1720.2" stroke="#000" stroke-width="2.4" stroke-linecap="round"/>
<text font-size="27.5" text-anchor="middle" font-weight="normal" transform="translate(932.30,1715.30) scale(1,1.0)">**</text>
<rect x="721.6" y="1648.5" width="23.5" height="18.3" fill="#fff" stroke="#000" stroke-width="2.4"/>
<rect x="721.6" y="1682.2" width="23.5" height="18.3" fill="#d4d4d4" stroke="#000" stroke-width="2.4"/>
<text font-size="29.3" text-anchor="start" font-weight="normal" transform="translate(752.40,1666.80) scale(1,1.0)">Uninduced</text>
<text font-size="29.3" text-anchor="start" font-weight="normal" transform="translate(752.40,1699.60) scale(1,1.0)">NaB</text>
<text font-size="29.3" text-anchor="middle" font-weight="normal" transform="translate(740.30,1981.40) scale(1,1.0)">0</text>
<text font-size="29.3" text-anchor="middle" font-weight="normal" transform="translate(786.80,1981.40) scale(1,1.0)">25</text>
<text font-size="29.3" text-anchor="middle" font-weight="normal" transform="translate(833.00,1981.40) scale(1,1.0)">50</text>
<text font-size="29.3" text-anchor="middle" font-weight="normal" transform="translate(907.00,1981.40) scale(1,1.0)">0</text>
<text font-size="29.3" text-anchor="middle" font-weight="normal" transform="translate(953.00,1981.40) scale(1,1.0)">25</text>
<text font-size="29.3" text-anchor="middle" font-weight="normal" transform="translate(999.00,1981.40) scale(1,1.0)">50</text>
<text font-size="29.3" text-anchor="start" font-weight="normal" transform="translate(577.50,1981.40) scale(1,1.0)">Cyclo (mM)</text>
<line x1="703.7" y1="2099.7" x2="703.7" y2="2462.9" stroke="#000" stroke-width="2.4" stroke-linecap="butt"/>
<line x1="689.3" y1="2100.5" x2="703.7" y2="2100.5" stroke="#000" stroke-width="2.4" stroke-linecap="butt"/>
<text font-size="29.3" text-anchor="end" font-weight="normal" transform="translate(683.50,2109.10) scale(1,1.0)">1500</text>
<line x1="689.3" y1="2220.9" x2="703.7" y2="2220.9" stroke="#000" stroke-width="2.4" stroke-linecap="butt"/>
<text font-size="29.3" text-anchor="end" font-weight="normal" transform="translate(683.50,2229.50) scale(1,1.0)">1000</text>
<line x1="689.3" y1="2341.3" x2="703.7" y2="2341.3" stroke="#000" stroke-width="2.4" stroke-linecap="butt"/>
<text font-size="29.3" text-anchor="end" font-weight="normal" transform="translate(683.50,2349.90) scale(1,1.0)">500</text>
<line x1="689.3" y1="2461.7" x2="703.7" y2="2461.7" stroke="#000" stroke-width="2.4" stroke-linecap="butt"/>
<text font-size="29.3" text-anchor="end" font-weight="normal" transform="translate(683.50,2465.70) scale(1,1.0)">0</text>
<line x1="689.3" y1="2461.9" x2="1064.0" y2="2461.9" stroke="#000" stroke-width="2.4" stroke-linecap="butt"/>
<text font-size="28.9" text-anchor="middle" font-weight="normal" transform="translate(604.00,2281.00) rotate(-90) scale(1,1.0)">Intracellular ROS level</text>
<rect x="718.30" y="2320.80" width="25.60" height="141.10" fill="#fff" stroke="#000" stroke-width="2.4"/>
<rect x="758.30" y="2344.20" width="25.60" height="117.70" fill="#fff" stroke="#000" stroke-width="2.4"/>
<rect x="798.50" y="2344.20" width="25.60" height="117.70" fill="#fff" stroke="#000" stroke-width="2.4"/>
<rect x="838.90" y="2336.30" width="25.60" height="125.60" fill="#fff" stroke="#000" stroke-width="2.4"/>
<rect x="905.70" y="2241.40" width="25.60" height="220.50" fill="#d4d4d4" stroke="#000" stroke-width="2.4"/>
<rect x="945.60" y="2288.50" width="25.60" height="173.40" fill="#d4d4d4" stroke="#000" stroke-width="2.4"/>
<rect x="985.40" y="2293.10" width="25.60" height="168.80" fill="#d4d4d4" stroke="#000" stroke-width="2.4"/>
<rect x="1025.90" y="2290.00" width="25.60" height="171.90" fill="#d4d4d4" stroke="#000" stroke-width="2.4"/>
<line x1="770.6" y1="2336.4" x2="770.6" y2="2349.5" stroke="#000" stroke-width="2.4" stroke-linecap="butt"/>
<line x1="764.4" y1="2336.4" x2="776.9" y2="2336.4" stroke="#000" stroke-width="2.4" stroke-linecap="round"/>
<line x1="764.4" y1="2349.5" x2="776.9" y2="2349.5" stroke="#000" stroke-width="2.4" stroke-linecap="round"/>
<line x1="918.0" y1="2229.0" x2="918.0" y2="2250.5" stroke="#000" stroke-width="2.4" stroke-linecap="butt"/>
<line x1="911.8" y1="2229.0" x2="924.2" y2="2229.0" stroke="#000" stroke-width="2.4" stroke-linecap="round"/>
<line x1="911.8" y1="2250.5" x2="924.2" y2="2250.5" stroke="#000" stroke-width="2.4" stroke-linecap="round"/>
<line x1="957.9" y1="2282.2" x2="957.9" y2="2292.3" stroke="#000" stroke-width="2.4" stroke-linecap="butt"/>
<line x1="951.6" y1="2282.2" x2="964.1" y2="2282.2" stroke="#000" stroke-width="2.4" stroke-linecap="round"/>
<line x1="951.6" y1="2292.3" x2="964.1" y2="2292.3" stroke="#000" stroke-width="2.4" stroke-linecap="round"/>
<circle cx="722.6" cy="2321.9" r="5.2" fill="#ff2a00"/>
<circle cx="730.5" cy="2314.6" r="5.2" fill="#ff2a00"/>
<circle cx="738.3" cy="2320.0" r="5.2" fill="#ff2a00"/>
<circle cx="762.8" cy="2337.0" r="5.2" fill="#ff2a00"/>
<circle cx="778.5" cy="2342.4" r="5.2" fill="#ff2a00"/>
<circle cx="762.8" cy="2349.5" r="5.2" fill="#ff2a00"/>
<circle cx="802.8" cy="2345.2" r="5.2" fill="#ff2a00"/>
<circle cx="810.5" cy="2338.9" r="5.2" fill="#ff2a00"/>
<circle cx="818.3" cy="2344.5" r="5.2" fill="#ff2a00"/>
<circle cx="842.6" cy="2335.9" r="5.2" fill="#ff2a00"/>
<circle cx="850.5" cy="2334.2" r="5.2" fill="#ff2a00"/>
<circle cx="858.5" cy="2335.1" r="5.2" fill="#ff2a00"/>
<circle cx="909.8" cy="2229.9" r="5.2" fill="#ff2a00"/>
<circle cx="925.5" cy="2239.1" r="5.2" fill="#ff2a00"/>
<circle cx="917.7" cy="2250.8" r="5.2" fill="#ff2a00"/>
<circle cx="950.0" cy="2292.3" r="5.2" fill="#ff2a00"/>
<circle cx="957.5" cy="2282.6" r="5.2" fill="#ff2a00"/>
<circle cx="965.7" cy="2286.0" r="5.2" fill="#ff2a00"/>
<circle cx="990.0" cy="2293.5" r="5.2" fill="#ff2a00"/>
<circle cx="998.0" cy="2290.5" r="5.2" fill="#ff2a00"/>
<circle cx="1005.9" cy="2292.0" r="5.2" fill="#ff2a00"/>
<circle cx="1030.2" cy="2289.2" r="5.2" fill="#ff2a00"/>
<circle cx="1037.9" cy="2286.9" r="5.2" fill="#ff2a00"/>
<circle cx="1045.7" cy="2287.9" r="5.2" fill="#ff2a00"/>
<line x1="734.2" y1="2229.3" x2="852.5" y2="2229.3" stroke="#000" stroke-width="2.4" stroke-linecap="butt"/>
<line x1="734.2" y1="2221.3" x2="734.2" y2="2237.3" stroke="#000" stroke-width="2.4" stroke-linecap="round"/>
<line x1="852.5" y1="2221.3" x2="852.5" y2="2237.3" stroke="#000" stroke-width="2.4" stroke-linecap="round"/>
<text font-size="27.5" text-anchor="middle" font-weight="normal" transform="translate(791.30,2230.60) scale(1,1.0)">**</text>
<line x1="734.2" y1="2261.3" x2="813.1" y2="2261.3" stroke="#000" stroke-width="2.4" stroke-linecap="butt"/>
<line x1="734.2" y1="2253.3" x2="734.2" y2="2269.3" stroke="#000" stroke-width="2.4" stroke-linecap="round"/>
<line x1="813.1" y1="2253.3" x2="813.1" y2="2269.3" stroke="#000" stroke-width="2.4" stroke-linecap="round"/>
<text font-size="27.5" text-anchor="middle" font-weight="normal" transform="translate(773.00,2264.80) scale(1,1.0)">***</text>
<line x1="734.2" y1="2293.5" x2="772.5" y2="2293.5" stroke="#000" stroke-width="2.4" stroke-linecap="butt"/>
<line x1="734.2" y1="2285.5" x2="734.2" y2="2301.5" stroke="#000" stroke-width="2.4" stroke-linecap="round"/>
<line x1="772.5" y1="2285.5" x2="772.5" y2="2301.5" stroke="#000" stroke-width="2.4" stroke-linecap="round"/>
<text font-size="27.5" text-anchor="middle" font-weight="normal" transform="translate(755.00,2294.70) scale(1,1.0)">***</text>
<line x1="918.0" y1="2150.3" x2="1036.9" y2="2150.3" stroke="#000" stroke-width="2.4" stroke-linecap="butt"/>
<line x1="918.0" y1="2142.3" x2="918.0" y2="2158.3" stroke="#000" stroke-width="2.4" stroke-linecap="round"/>
<line x1="1036.9" y1="2142.3" x2="1036.9" y2="2158.3" stroke="#000" stroke-width="2.4" stroke-linecap="round"/>
<text font-size="27.5" text-anchor="middle" font-weight="normal" transform="translate(977.20,2153.00) scale(1,1.0)">***</text>
<line x1="918.0" y1="2182.6" x2="997.1" y2="2182.6" stroke="#000" stroke-width="2.4" stroke-linecap="butt"/>
<line x1="918.0" y1="2174.6" x2="918.0" y2="2190.6" stroke="#000" stroke-width="2.4" stroke-linecap="round"/>
<line x1="997.1" y1="2174.6" x2="997.1" y2="2190.6" stroke="#000" stroke-width="2.4" stroke-linecap="round"/>
<text font-size="27.5" text-anchor="middle" font-weight="normal" transform="translate(957.20,2185.40) scale(1,1.0)">***</text>
<line x1="918.0" y1="2215.3" x2="956.9" y2="2215.3" stroke="#000" stroke-width="2.4" stroke-linecap="butt"/>
<line x1="918.0" y1="2207.3" x2="918.0" y2="2223.3" stroke="#000" stroke-width="2.4" stroke-linecap="round"/>
<line x1="956.9" y1="2207.3" x2="956.9" y2="2223.3" stroke="#000" stroke-width="2.4" stroke-linecap="round"/>
<text font-size="27.5" text-anchor="middle" font-weight="normal" transform="translate(939.60,2215.30) scale(1,1.0)">***</text>
<rect x="720.7" y="2109.5" width="27.0" height="20.4" fill="#fff" stroke="#000" stroke-width="2.4"/>
<rect x="720.7" y="2144.1" width="27.0" height="20.4" fill="#d4d4d4" stroke="#000" stroke-width="2.4"/>
<text font-size="29.3" text-anchor="start" font-weight="normal" transform="translate(756.70,2129.40) scale(1,1.0)">Uninduced</text>
<text font-size="29.3" text-anchor="start" font-weight="normal" transform="translate(756.70,2163.10) scale(1,1.0)">NaB</text>
<text font-size="29.3" text-anchor="middle" font-weight="normal" transform="translate(730.00,2494.00) scale(1,1.0)">0</text>
<text font-size="29.3" text-anchor="middle" font-weight="normal" transform="translate(770.00,2494.00) scale(1,1.0)">0.5</text>
<text font-size="29.3" text-anchor="middle" font-weight="normal" transform="translate(809.00,2494.00) scale(1,1.0)">1</text>
<text font-size="29.3" text-anchor="middle" font-weight="normal" transform="translate(850.00,2494.00) scale(1,1.0)">2</text>
<text font-size="29.3" text-anchor="middle" font-weight="normal" transform="translate(917.50,2494.00) scale(1,1.0)">0</text>
<text font-size="29.3" text-anchor="middle" font-weight="normal" transform="translate(957.50,2494.00) scale(1,1.0)">0.5</text>
<text font-size="29.3" text-anchor="middle" font-weight="normal" transform="translate(997.50,2494.00) scale(1,1.0)">1</text>
<text font-size="29.3" text-anchor="middle" font-weight="normal" transform="translate(1036.50,2494.00) scale(1,1.0)">2</text>
<text font-size="29.3" text-anchor="start" font-weight="normal" transform="translate(571.00,2494.00) scale(1,1.0)">SAM (mM)</text>
<path d="M123.7,952.3 L213.2,952.3 L220.2,945.8 L227.2,929.0 L234.3,912.2 L239.9,894.0 L245.5,875.8 L251.1,861.8 L256.7,863.1 L259.5,851.9 L262.3,844.9 L266.5,839.3 L270.7,830.9 L274.9,835.1 L277.7,836.5 L279.1,823.9 L280.5,809.9 L282.6,800.1 L284.7,793.0 L287.5,787.4 L291.7,786.0 L294.5,779.0 L297.3,772.0 L300.1,763.6 L303.0,760.8 L307.1,759.7 L310.9,750.3 L314.6,742.9 L316.8,741.2 L321.9,744.5 L326.9,727.7 L331.1,744.5 L336.2,731.1 L341.2,741.2 L345.4,739.5 L348.8,746.2 L353.0,750.4 L357.2,741.2 L360.6,756.3 L363.9,771.5 L367.3,784.9 L371.5,795.0 L374.0,805.1 L377.4,813.5 L381.6,812.7 L385.0,821.9 L387.5,833.7 L391.7,842.1 L394.8,860.8 L397.0,875.8 L401.5,889.2 L406.7,898.2 L411.2,907.2 L415.7,919.1 L419.4,928.1 L424.7,935.6 L430.7,943.0 L436.6,946.8 L444.1,949.8 L451.6,951.3 L460.6,952.3 L520.2,952.3 Z" fill="rgba(60,215,80,0.25)" stroke="none"/>
<path d="M123.7,952.3 L213.2,952.3 L220.2,945.8 L227.2,929.0 L234.3,912.2 L239.9,894.0 L245.5,875.8 L251.1,861.8 L256.7,863.1 L259.5,851.9 L262.3,844.9 L266.5,839.3 L270.7,830.9 L274.9,835.1 L277.7,836.5 L279.1,823.9 L280.5,809.9 L282.6,800.1 L284.7,793.0 L287.5,787.4 L291.7,786.0 L294.5,779.0 L297.3,772.0 L300.1,763.6 L303.0,760.8 L307.1,759.7 L310.9,750.3 L314.6,742.9 L316.8,741.2 L321.9,744.5 L326.9,727.7 L331.1,744.5 L336.2,731.1 L341.2,741.2 L345.4,739.5 L348.8,746.2 L353.0,750.4 L357.2,741.2 L360.6,756.3 L363.9,771.5 L367.3,784.9 L371.5,795.0 L374.0,805.1 L377.4,813.5 L381.6,812.7 L385.0,821.9 L387.5,833.7 L391.7,842.1 L394.8,860.8 L397.0,875.8 L401.5,889.2 L406.7,898.2 L411.2,907.2 L415.7,919.1 L419.4,928.1 L424.7,935.6 L430.7,943.0 L436.6,946.8 L444.1,949.8 L451.6,951.3 L460.6,952.3 L520.2,952.3" fill="none" stroke="#10ee10" stroke-width="3.3" stroke-linejoin="round" stroke-linecap="round"/>
<path d="M123.7,952.3 L214.6,952.3 L221.6,941.7 L228.6,922.0 L235.7,903.8 L241.3,884.2 L245.5,873.0 L251.1,861.8 L256.7,857.5 L260.9,854.7 L263.7,847.7 L266.5,830.9 L268.6,826.7 L271.4,830.9 L273.5,825.3 L275.6,814.1 L279.1,802.9 L283.3,801.5 L287.5,805.7 L291.7,802.9 L295.9,800.1 L300.0,791.6 L303.4,790.0 L307.6,795.0 L311.8,786.6 L314.3,783.2 L318.5,785.8 L322.7,781.6 L326.9,779.9 L331.1,769.8 L334.5,766.4 L337.0,774.8 L339.5,781.6 L342.1,764.7 L345.4,766.4 L348.8,774.8 L351.3,791.6 L353.8,795.0 L357.2,783.2 L359.7,784.9 L362.2,800.1 L364.8,806.8 L369.0,805.9 L372.3,810.2 L375.7,820.2 L379.9,830.3 L384.1,835.4 L388.3,840.4 L391.7,845.5 L394.2,842.1 L397.6,838.8 L400.9,848.8 L403.7,860.8 L408.2,872.8 L412.7,883.2 L417.2,898.2 L421.7,908.7 L426.2,919.1 L430.7,928.1 L436.6,937.1 L442.6,943.8 L448.6,949.0 L451.6,952.3 L520.2,952.3 Z" fill="rgba(255,110,110,0.25)" stroke="none"/>
<path d="M123.7,952.3 L214.6,952.3 L221.6,941.7 L228.6,922.0 L235.7,903.8 L241.3,884.2 L245.5,873.0 L251.1,861.8 L256.7,857.5 L260.9,854.7 L263.7,847.7 L266.5,830.9 L268.6,826.7 L271.4,830.9 L273.5,825.3 L275.6,814.1 L279.1,802.9 L283.3,801.5 L287.5,805.7 L291.7,802.9 L295.9,800.1 L300.0,791.6 L303.4,790.0 L307.6,795.0 L311.8,786.6 L314.3,783.2 L318.5,785.8 L322.7,781.6 L326.9,779.9 L331.1,769.8 L334.5,766.4 L337.0,774.8 L339.5,781.6 L342.1,764.7 L345.4,766.4 L348.8,774.8 L351.3,791.6 L353.8,795.0 L357.2,783.2 L359.7,784.9 L362.2,800.1 L364.8,806.8 L369.0,805.9 L372.3,810.2 L375.7,820.2 L379.9,830.3 L384.1,835.4 L388.3,840.4 L391.7,845.5 L394.2,842.1 L397.6,838.8 L400.9,848.8 L403.7,860.8 L408.2,872.8 L412.7,883.2 L417.2,898.2 L421.7,908.7 L426.2,919.1 L430.7,928.1 L436.6,937.1 L442.6,943.8 L448.6,949.0 L451.6,952.3 L520.2,952.3" fill="none" stroke="#ff4040" stroke-width="3.3" stroke-linejoin="round" stroke-linecap="round"/>
<path d="M123.7,952.3 L210.4,952.3 L216.0,943.1 L223.0,922.0 L228.6,901.0 L234.3,873.0 L238.5,851.9 L242.7,828.1 L245.5,819.7 L249.0,821.1 L251.1,809.9 L252.5,788.8 L254.6,780.4 L257.4,788.8 L259.5,800.8 L261.6,793.0 L263.7,774.8 L266.0,765.3 L269.8,770.0 L273.5,770.6 L276.3,766.4 L278.2,754.1 L281.0,727.9 L284.7,722.3 L286.6,735.4 L288.5,746.6 L291.3,735.4 L294.1,741.0 L296.9,744.7 L299.7,735.4 L303.4,731.1 L306.7,742.9 L309.3,749.6 L313.5,734.4 L316.8,736.1 L321.0,741.2 L324.4,751.3 L327.8,764.7 L331.1,766.4 L335.3,759.7 L338.7,768.1 L342.9,778.2 L347.1,769.8 L350.5,778.2 L353.8,791.6 L358.0,805.1 L362.2,806.8 L365.6,818.6 L368.1,828.7 L372.3,830.3 L374.9,832.0 L378.2,842.1 L381.6,852.2 L384.1,862.3 L386.5,872.8 L390.3,880.2 L394.8,886.2 L399.3,896.7 L403.0,908.7 L406.7,917.6 L412.7,926.6 L418.7,931.1 L424.7,935.6 L430.7,938.6 L436.6,943.0 L442.6,947.5 L448.6,950.5 L451.6,952.3 L520.2,952.3 Z" fill="rgba(53,154,225,0.25)" stroke="none"/>
<path d="M123.7,952.3 L210.4,952.3 L216.0,943.1 L223.0,922.0 L228.6,901.0 L234.3,873.0 L238.5,851.9 L242.7,828.1 L245.5,819.7 L249.0,821.1 L251.1,809.9 L252.5,788.8 L254.6,780.4 L257.4,788.8 L259.5,800.8 L261.6,793.0 L263.7,774.8 L266.0,765.3 L269.8,770.0 L273.5,770.6 L276.3,766.4 L278.2,754.1 L281.0,727.9 L284.7,722.3 L286.6,735.4 L288.5,746.6 L291.3,735.4 L294.1,741.0 L296.9,744.7 L299.7,735.4 L303.4,731.1 L306.7,742.9 L309.3,749.6 L313.5,734.4 L316.8,736.1 L321.0,741.2 L324.4,751.3 L327.8,764.7 L331.1,766.4 L335.3,759.7 L338.7,768.1 L342.9,778.2 L347.1,769.8 L350.5,778.2 L353.8,791.6 L358.0,805.1 L362.2,806.8 L365.6,818.6 L368.1,828.7 L372.3,830.3 L374.9,832.0 L378.2,842.1 L381.6,852.2 L384.1,862.3 L386.5,872.8 L390.3,880.2 L394.8,886.2 L399.3,896.7 L403.0,908.7 L406.7,917.6 L412.7,926.6 L418.7,931.1 L424.7,935.6 L430.7,938.6 L436.6,943.0 L442.6,947.5 L448.6,950.5 L451.6,952.3 L520.2,952.3" fill="none" stroke="#0a78ff" stroke-width="3.3" stroke-linejoin="round" stroke-linecap="round"/>
<path d="M123.7,952.3 L209.0,952.3 L213.2,947.3 L216.0,936.0 L218.8,912.2 L220.9,873.0 L222.3,830.9 L223.7,788.8 L224.9,760.8 L226.8,731.6 L228.6,694.3 L231.4,688.7 L234.3,679.3 L237.1,670.0 L239.4,668.1 L241.7,683.0 L243.6,696.1 L246.4,699.9 L249.2,705.5 L252.0,703.6 L254.4,692.4 L256.3,688.7 L258.6,705.5 L260.4,727.9 L263.2,729.8 L266.0,727.9 L269.8,729.8 L273.5,727.9 L276.3,735.4 L279.1,752.2 L282.9,765.3 L286.6,774.6 L290.3,772.8 L294.1,778.4 L297.8,787.7 L300.0,781.6 L302.5,779.9 L305.0,788.3 L308.4,798.4 L311.8,801.8 L314.3,810.2 L316.8,808.5 L320.2,801.8 L322.7,805.1 L325.2,816.9 L326.9,827.0 L330.3,825.3 L332.8,830.3 L336.2,835.4 L340.4,833.7 L343.7,838.8 L346.3,845.5 L348.8,853.9 L353.6,860.8 L355.9,869.8 L359.6,877.2 L363.4,875.8 L367.9,883.2 L372.3,892.2 L376.8,887.7 L381.3,890.7 L385.8,899.7 L388.8,910.1 L391.8,920.6 L394.8,923.6 L400.7,923.6 L405.2,926.6 L409.7,932.6 L415.7,938.6 L423.2,943.8 L430.7,947.5 L439.6,949.8 L450.1,951.3 L460.6,952.3 L520.2,952.3" fill="none" stroke="#80ff00" stroke-width="3.3" stroke-linejoin="round" stroke-linecap="round"/>
<path d="M123.7,952.3 L210.4,952.3 L214.6,947.3 L217.4,936.0 L220.2,915.0 L222.3,887.0 L223.7,844.9 L225.8,802.9 L227.7,775.8 L229.6,746.6 L232.4,735.4 L235.2,720.4 L238.0,705.5 L240.8,694.3 L243.6,681.2 L246.4,675.6 L249.2,681.2 L252.0,681.2 L254.8,675.6 L257.6,673.7 L260.4,681.2 L263.2,690.5 L266.0,698.0 L268.8,705.5 L271.6,698.0 L273.5,688.7 L275.7,688.7 L278.2,701.7 L281.0,712.9 L283.8,718.6 L287.5,711.1 L291.3,714.8 L294.1,727.9 L297.8,737.2 L300.0,737.8 L303.4,751.3 L306.7,761.4 L310.1,769.8 L315.1,769.8 L318.5,773.1 L321.9,776.5 L325.2,779.9 L327.8,790.0 L330.3,803.4 L332.8,815.2 L335.3,828.7 L338.7,842.1 L342.1,850.5 L346.3,849.7 L349.2,858.8 L352.1,875.8 L355.9,881.7 L363.4,890.7 L367.9,902.7 L372.3,911.6 L378.3,919.1 L384.3,928.1 L390.3,937.1 L397.8,943.0 L406.7,946.0 L417.2,949.0 L424.7,951.3 L432.2,952.3 L520.2,952.3" fill="none" stroke="#ff8282" stroke-width="3.3" stroke-linejoin="round" stroke-linecap="round"/>
<path d="M123.7,952.3 L204.8,952.3 L209.7,951.5 L212.5,945.8 L214.6,933.2 L216.0,915.0 L217.4,887.0 L218.8,844.9 L220.2,788.8 L221.5,740.8 L223.0,710.8 L225.0,680.8 L226.4,645.8 L228.0,611.8 L229.0,603.2 L231.3,607.8 L232.9,602.8 L235.0,602.8 L236.9,597.6 L240.2,594.4 L243.0,608.8 L244.9,614.8 L246.3,616.8 L249.5,616.8 L252.3,627.5 L256.1,641.5 L257.5,653.7 L259.8,664.9 L263.6,674.3 L265.4,676.1 L267.3,679.9 L270.7,698.0 L273.5,702.7 L277.2,707.3 L280.0,716.7 L282.9,722.3 L286.2,735.4 L289.4,740.1 L292.2,742.9 L295.9,761.5 L298.7,767.2 L302.5,770.0 L305.3,772.8 L308.1,780.2 L310.0,789.6 L312.6,800.1 L316.0,805.1 L318.5,815.2 L321.9,823.6 L324.4,835.4 L326.9,848.8 L331.1,854.7 L333.6,862.8 L336.4,872.8 L340.2,886.2 L344.7,893.7 L349.9,899.7 L355.9,902.7 L360.4,911.6 L364.9,922.1 L370.8,934.1 L376.8,940.1 L384.3,944.5 L390.3,947.5 L396.3,951.3 L403.7,952.3 L520.2,952.3" fill="none" stroke="#4ba3ff" stroke-width="3.3" stroke-linejoin="round" stroke-linecap="round"/>
<rect x="123.7" y="558.1" width="396.5" height="396.0" fill="none" stroke="#000" stroke-width="1.5"/>
<line x1="112.7" y1="953.3" x2="123.7" y2="953.3" stroke="#000" stroke-width="3.2" stroke-linecap="butt"/>
<text font-size="29.3" text-anchor="end" font-weight="normal" transform="translate(108.30,961.90) scale(1,1.0)">0</text>
<line x1="118.7" y1="932.2" x2="123.7" y2="932.2" stroke="#000" stroke-width="1.5" stroke-linecap="butt"/>
<line x1="118.7" y1="911.0" x2="123.7" y2="911.0" stroke="#000" stroke-width="1.5" stroke-linecap="butt"/>
<line x1="118.7" y1="889.9" x2="123.7" y2="889.9" stroke="#000" stroke-width="1.5" stroke-linecap="butt"/>
<line x1="118.7" y1="868.7" x2="123.7" y2="868.7" stroke="#000" stroke-width="1.5" stroke-linecap="butt"/>
<line x1="112.7" y1="847.6" x2="123.7" y2="847.6" stroke="#000" stroke-width="3.2" stroke-linecap="butt"/>
<text font-size="29.3" text-anchor="end" font-weight="normal" transform="translate(108.30,856.16) scale(1,1.0)">50</text>
<line x1="118.7" y1="826.4" x2="123.7" y2="826.4" stroke="#000" stroke-width="1.5" stroke-linecap="butt"/>
<line x1="118.7" y1="805.3" x2="123.7" y2="805.3" stroke="#000" stroke-width="1.5" stroke-linecap="butt"/>
<line x1="118.7" y1="784.1" x2="123.7" y2="784.1" stroke="#000" stroke-width="1.5" stroke-linecap="butt"/>
<line x1="118.7" y1="763.0" x2="123.7" y2="763.0" stroke="#000" stroke-width="1.5" stroke-linecap="butt"/>
<line x1="112.7" y1="741.8" x2="123.7" y2="741.8" stroke="#000" stroke-width="3.2" stroke-linecap="butt"/>
<text font-size="29.3" text-anchor="end" font-weight="normal" transform="translate(108.30,750.43) scale(1,1.0)">100</text>
<line x1="118.7" y1="720.7" x2="123.7" y2="720.7" stroke="#000" stroke-width="1.5" stroke-linecap="butt"/>
<line x1="118.7" y1="699.5" x2="123.7" y2="699.5" stroke="#000" stroke-width="1.5" stroke-linecap="butt"/>
<line x1="118.7" y1="678.4" x2="123.7" y2="678.4" stroke="#000" stroke-width="1.5" stroke-linecap="butt"/>
<line x1="118.7" y1="657.2" x2="123.7" y2="657.2" stroke="#000" stroke-width="1.5" stroke-linecap="butt"/>
<line x1="112.7" y1="636.1" x2="123.7" y2="636.1" stroke="#000" stroke-width="3.2" stroke-linecap="butt"/>
<text font-size="29.3" text-anchor="end" font-weight="normal" transform="translate(108.30,644.70) scale(1,1.0)">150</text>
<line x1="118.7" y1="614.9" x2="123.7" y2="614.9" stroke="#000" stroke-width="1.5" stroke-linecap="butt"/>
<line x1="118.7" y1="593.8" x2="123.7" y2="593.8" stroke="#000" stroke-width="1.5" stroke-linecap="butt"/>
<line x1="118.7" y1="572.7" x2="123.7" y2="572.7" stroke="#000" stroke-width="1.5" stroke-linecap="butt"/>
<line x1="148.4" y1="954.1" x2="148.4" y2="965.6" stroke="#000" stroke-width="3.2" stroke-linecap="butt"/>
<line x1="278.8" y1="954.1" x2="278.8" y2="965.6" stroke="#000" stroke-width="3.2" stroke-linecap="butt"/>
<line x1="386.3" y1="954.1" x2="386.3" y2="965.6" stroke="#000" stroke-width="3.2" stroke-linecap="butt"/>
<line x1="480.9" y1="954.1" x2="480.9" y2="965.6" stroke="#000" stroke-width="3.2" stroke-linecap="butt"/>
<line x1="176.5" y1="954.1" x2="176.5" y2="962.6" stroke="#000" stroke-width="3" stroke-linecap="butt"/>
<line x1="249.4" y1="954.1" x2="249.4" y2="962.6" stroke="#000" stroke-width="3" stroke-linecap="butt"/>
<line x1="358.2" y1="954.1" x2="358.2" y2="962.6" stroke="#000" stroke-width="3" stroke-linecap="butt"/>
<line x1="453.5" y1="954.1" x2="453.5" y2="962.6" stroke="#000" stroke-width="3" stroke-linecap="butt"/>
<line x1="152.6" y1="954.1" x2="152.6" y2="959.3" stroke="#000" stroke-width="1.6" stroke-linecap="butt"/>
<line x1="157.5" y1="954.1" x2="157.5" y2="959.3" stroke="#000" stroke-width="1.6" stroke-linecap="butt"/>
<line x1="161.0" y1="954.1" x2="161.0" y2="959.3" stroke="#000" stroke-width="1.6" stroke-linecap="butt"/>
<line x1="164.5" y1="954.1" x2="164.5" y2="959.3" stroke="#000" stroke-width="1.6" stroke-linecap="butt"/>
<line x1="169.4" y1="954.1" x2="169.4" y2="959.3" stroke="#000" stroke-width="1.6" stroke-linecap="butt"/>
<line x1="173.0" y1="954.1" x2="173.0" y2="959.3" stroke="#000" stroke-width="1.6" stroke-linecap="butt"/>
<line x1="180.7" y1="954.1" x2="180.7" y2="959.3" stroke="#000" stroke-width="1.6" stroke-linecap="butt"/>
<line x1="184.9" y1="954.1" x2="184.9" y2="959.3" stroke="#000" stroke-width="1.6" stroke-linecap="butt"/>
<line x1="189.1" y1="954.1" x2="189.1" y2="959.3" stroke="#000" stroke-width="1.6" stroke-linecap="butt"/>
<line x1="194.0" y1="954.1" x2="194.0" y2="959.3" stroke="#000" stroke-width="1.6" stroke-linecap="butt"/>
<line x1="198.2" y1="954.1" x2="198.2" y2="959.3" stroke="#000" stroke-width="1.6" stroke-linecap="butt"/>
<line x1="201.7" y1="954.1" x2="201.7" y2="959.3" stroke="#000" stroke-width="1.6" stroke-linecap="butt"/>
<line x1="227.6" y1="954.1" x2="227.6" y2="959.3" stroke="#000" stroke-width="1.6" stroke-linecap="butt"/>
<line x1="231.8" y1="954.1" x2="231.8" y2="959.3" stroke="#000" stroke-width="1.6" stroke-linecap="butt"/>
<line x1="236.0" y1="954.1" x2="236.0" y2="959.3" stroke="#000" stroke-width="1.6" stroke-linecap="butt"/>
<line x1="239.5" y1="954.1" x2="239.5" y2="959.3" stroke="#000" stroke-width="1.6" stroke-linecap="butt"/>
<line x1="243.7" y1="954.1" x2="243.7" y2="959.3" stroke="#000" stroke-width="1.6" stroke-linecap="butt"/>
<line x1="254.3" y1="954.1" x2="254.3" y2="959.3" stroke="#000" stroke-width="1.6" stroke-linecap="butt"/>
<line x1="257.8" y1="954.1" x2="257.8" y2="959.3" stroke="#000" stroke-width="1.6" stroke-linecap="butt"/>
<line x1="262.0" y1="954.1" x2="262.0" y2="959.3" stroke="#000" stroke-width="1.6" stroke-linecap="butt"/>
<line x1="264.8" y1="954.1" x2="264.8" y2="959.3" stroke="#000" stroke-width="1.6" stroke-linecap="butt"/>
<line x1="269.0" y1="954.1" x2="269.0" y2="959.3" stroke="#000" stroke-width="1.6" stroke-linecap="butt"/>
<line x1="271.8" y1="954.1" x2="271.8" y2="959.3" stroke="#000" stroke-width="1.6" stroke-linecap="butt"/>
<line x1="274.6" y1="954.1" x2="274.6" y2="959.3" stroke="#000" stroke-width="1.6" stroke-linecap="butt"/>
<line x1="312.9" y1="954.1" x2="312.9" y2="959.3" stroke="#000" stroke-width="1.6" stroke-linecap="butt"/>
<line x1="332.4" y1="954.1" x2="332.4" y2="959.3" stroke="#000" stroke-width="1.6" stroke-linecap="butt"/>
<line x1="346.3" y1="954.1" x2="346.3" y2="959.3" stroke="#000" stroke-width="1.6" stroke-linecap="butt"/>
<line x1="352.2" y1="954.1" x2="352.2" y2="959.3" stroke="#000" stroke-width="1.6" stroke-linecap="butt"/>
<line x1="363.0" y1="954.1" x2="363.0" y2="959.3" stroke="#000" stroke-width="1.6" stroke-linecap="butt"/>
<line x1="366.5" y1="954.1" x2="366.5" y2="959.3" stroke="#000" stroke-width="1.6" stroke-linecap="butt"/>
<line x1="371.3" y1="954.1" x2="371.3" y2="959.3" stroke="#000" stroke-width="1.6" stroke-linecap="butt"/>
<line x1="376.0" y1="954.1" x2="376.0" y2="959.3" stroke="#000" stroke-width="1.6" stroke-linecap="butt"/>
<line x1="380.8" y1="954.1" x2="380.8" y2="959.3" stroke="#000" stroke-width="1.6" stroke-linecap="butt"/>
<line x1="416.6" y1="954.1" x2="416.6" y2="959.3" stroke="#000" stroke-width="1.6" stroke-linecap="butt"/>
<line x1="434.4" y1="954.1" x2="434.4" y2="959.3" stroke="#000" stroke-width="1.6" stroke-linecap="butt"/>
<line x1="445.2" y1="954.1" x2="445.2" y2="959.3" stroke="#000" stroke-width="1.6" stroke-linecap="butt"/>
<line x1="460.7" y1="954.1" x2="460.7" y2="959.3" stroke="#000" stroke-width="1.6" stroke-linecap="butt"/>
<line x1="465.4" y1="954.1" x2="465.4" y2="959.3" stroke="#000" stroke-width="1.6" stroke-linecap="butt"/>
<line x1="470.2" y1="954.1" x2="470.2" y2="959.3" stroke="#000" stroke-width="1.6" stroke-linecap="butt"/>
<line x1="475.0" y1="954.1" x2="475.0" y2="959.3" stroke="#000" stroke-width="1.6" stroke-linecap="butt"/>
<line x1="508.3" y1="954.1" x2="508.3" y2="959.3" stroke="#000" stroke-width="1.6" stroke-linecap="butt"/>
<path d="M204.5,954.1 H222.7 V965.6 H219.9 V961.9 H215.5 V965.6 H210.3 V961.9 H208.0 V965.6 H204.5 Z" fill="#000"/>
<text font-size="29.3" text-anchor="start" font-weight="normal" transform="translate(113.00,993.40) scale(1,1.0)">-10<tspan font-size="17" dx="0.6" dy="-10">3</tspan></text>
<text font-size="29.3" text-anchor="middle" font-weight="normal" transform="translate(213.50,993.40) scale(1,1.0)">0</text>
<text font-size="29.3" text-anchor="start" font-weight="normal" transform="translate(257.80,993.40) scale(1,1.0)">10<tspan font-size="17" dx="0.6" dy="-10">3</tspan></text>
<text font-size="29.3" text-anchor="start" font-weight="normal" transform="translate(364.70,993.40) scale(1,1.0)">10<tspan font-size="17" dx="0.6" dy="-10">4</tspan></text>
<text font-size="29.3" text-anchor="start" font-weight="normal" transform="translate(461.50,993.40) scale(1,1.0)">10<tspan font-size="17" dx="0.6" dy="-10">5</tspan></text>
<text font-size="29.3" text-anchor="middle" font-weight="normal" transform="translate(321.90,1021.20) scale(1,1.0)">AF647_A</text>
<text font-size="29.3" text-anchor="middle" font-weight="normal" transform="translate(47.00,776.30) rotate(-90) scale(1,1.0)">Count</text>
<rect x="320.0" y="571.1" width="10.9" height="10.9" fill="#fff" stroke="#4ba3ff" stroke-width="1.6"/>
<text font-size="26.1" text-anchor="start" font-weight="normal" transform="translate(340.00,582.80) scale(1,1.0)">siCtrl</text>
<rect x="320.0" y="596.7" width="10.9" height="10.9" fill="#fff" stroke="#ff8282" stroke-width="1.6"/>
<text font-size="26.1" text-anchor="start" font-weight="normal" transform="translate(340.00,608.40) scale(1,1.0)">siM16-1</text>
<rect x="320.0" y="622.3" width="10.9" height="10.9" fill="#fff" stroke="#80ff00" stroke-width="1.6"/>
<text font-size="26.1" text-anchor="start" font-weight="normal" transform="translate(340.00,634.00) scale(1,1.0)">siM16-2</text>
<rect x="320.0" y="647.9" width="10.9" height="10.9" fill="#cfe4fa" stroke="#0a78ff" stroke-width="1.6"/>
<text font-size="26.1" text-anchor="start" font-weight="normal" transform="translate(340.00,659.60) scale(1,1.0)">siCtrl + NaB</text>
<rect x="320.0" y="673.5" width="10.9" height="10.9" fill="#fddcdc" stroke="#ff4040" stroke-width="1.6"/>
<text font-size="26.1" text-anchor="start" font-weight="normal" transform="translate(340.00,685.20) scale(1,1.0)">siM16-1 + NaB</text>
<rect x="320.0" y="699.1" width="10.9" height="10.9" fill="#d0f7d0" stroke="#10ee10" stroke-width="1.6"/>
<text font-size="26.1" text-anchor="start" font-weight="normal" transform="translate(340.00,710.80) scale(1,1.0)">siM16-2 + NaB</text>
<text font-size="38.5" text-anchor="start" font-weight="bold" transform="translate(3.90,570.20) scale(1,1.0)">C</text>
<path d="M119.5,1459.5 L211.8,1459.5 L220.2,1442.3 L228.6,1400.2 L231.5,1391.8 L235.7,1390.4 L238.5,1382.0 L242.7,1365.1 L246.9,1346.9 L249.7,1342.7 L253.9,1341.3 L258.1,1339.9 L262.3,1338.5 L265.1,1328.7 L269.3,1321.7 L273.5,1313.3 L277.7,1304.9 L280.5,1299.3 L283.3,1288.0 L286.1,1278.2 L290.3,1281.0 L293.1,1276.8 L297.3,1268.4 L301.5,1271.2 L305.8,1264.2 L307.2,1258.2 L311.4,1245.6 L314.2,1251.2 L318.4,1255.4 L322.6,1251.2 L326.1,1247.0 L329.6,1247.0 L333.8,1249.8 L336.6,1252.6 L341.2,1248.4 L345.4,1250.5 L348.9,1263.1 L353.1,1274.3 L355.9,1277.1 L359.4,1295.3 L362.9,1313.6 L366.5,1309.4 L369.3,1300.9 L371.4,1306.5 L373.5,1322.0 L376.3,1331.8 L379.8,1334.6 L382.6,1338.8 L386.1,1338.8 L388.9,1348.6 L391.7,1361.2 L394.5,1376.6 L398.0,1375.2 L400.8,1379.4 L403.0,1392.0 L406.7,1405.4 L411.2,1420.4 L415.7,1432.3 L421.7,1439.8 L427.7,1445.8 L433.6,1451.8 L439.6,1456.3 L447.1,1459.5 L516.1,1459.5 Z" fill="rgba(60,215,80,0.25)" stroke="none"/>
<path d="M119.5,1459.5 L211.8,1459.5 L220.2,1442.3 L228.6,1400.2 L231.5,1391.8 L235.7,1390.4 L238.5,1382.0 L242.7,1365.1 L246.9,1346.9 L249.7,1342.7 L253.9,1341.3 L258.1,1339.9 L262.3,1338.5 L265.1,1328.7 L269.3,1321.7 L273.5,1313.3 L277.7,1304.9 L280.5,1299.3 L283.3,1288.0 L286.1,1278.2 L290.3,1281.0 L293.1,1276.8 L297.3,1268.4 L301.5,1271.2 L305.8,1264.2 L307.2,1258.2 L311.4,1245.6 L314.2,1251.2 L318.4,1255.4 L322.6,1251.2 L326.1,1247.0 L329.6,1247.0 L333.8,1249.8 L336.6,1252.6 L341.2,1248.4 L345.4,1250.5 L348.9,1263.1 L353.1,1274.3 L355.9,1277.1 L359.4,1295.3 L362.9,1313.6 L366.5,1309.4 L369.3,1300.9 L371.4,1306.5 L373.5,1322.0 L376.3,1331.8 L379.8,1334.6 L382.6,1338.8 L386.1,1338.8 L388.9,1348.6 L391.7,1361.2 L394.5,1376.6 L398.0,1375.2 L400.8,1379.4 L403.0,1392.0 L406.7,1405.4 L411.2,1420.4 L415.7,1432.3 L421.7,1439.8 L427.7,1445.8 L433.6,1451.8 L439.6,1456.3 L447.1,1459.5 L516.1,1459.5" fill="none" stroke="#10ee10" stroke-width="3.3" stroke-linejoin="round" stroke-linecap="round"/>
<path d="M119.5,1459.5 L209.0,1459.5 L216.0,1442.3 L223.0,1407.2 L230.0,1365.1 L235.7,1337.1 L239.9,1324.5 L243.4,1330.1 L248.3,1321.7 L251.1,1328.7 L253.9,1318.9 L256.7,1306.3 L260.9,1290.8 L265.1,1289.4 L267.9,1295.0 L270.7,1283.8 L273.5,1276.8 L276.3,1269.8 L279.1,1264.2 L282.0,1250.0 L286.1,1238.6 L290.3,1237.2 L295.2,1228.8 L298.7,1234.4 L301.5,1238.6 L305.1,1234.4 L308.6,1241.4 L311.4,1230.2 L314.2,1219.0 L317.0,1231.6 L320.5,1237.2 L323.3,1244.2 L326.1,1252.6 L328.9,1262.4 L331.0,1269.0 L334.2,1258.9 L337.0,1256.1 L340.5,1270.1 L344.0,1264.5 L346.8,1261.7 L349.6,1272.9 L351.7,1289.7 L353.8,1309.4 L355.9,1320.6 L358.0,1330.4 L360.8,1338.8 L365.0,1341.6 L367.2,1354.2 L370.0,1372.4 L373.5,1375.2 L377.7,1375.2 L380.5,1385.1 L383.3,1393.5 L385.8,1399.4 L388.8,1409.9 L393.3,1417.4 L397.8,1424.9 L402.2,1432.3 L406.7,1439.8 L411.2,1445.8 L417.2,1451.8 L423.2,1456.3 L430.7,1459.5 L516.1,1459.5 Z" fill="rgba(255,110,110,0.25)" stroke="none"/>
<path d="M119.5,1459.5 L209.0,1459.5 L216.0,1442.3 L223.0,1407.2 L230.0,1365.1 L235.7,1337.1 L239.9,1324.5 L243.4,1330.1 L248.3,1321.7 L251.1,1328.7 L253.9,1318.9 L256.7,1306.3 L260.9,1290.8 L265.1,1289.4 L267.9,1295.0 L270.7,1283.8 L273.5,1276.8 L276.3,1269.8 L279.1,1264.2 L282.0,1250.0 L286.1,1238.6 L290.3,1237.2 L295.2,1228.8 L298.7,1234.4 L301.5,1238.6 L305.1,1234.4 L308.6,1241.4 L311.4,1230.2 L314.2,1219.0 L317.0,1231.6 L320.5,1237.2 L323.3,1244.2 L326.1,1252.6 L328.9,1262.4 L331.0,1269.0 L334.2,1258.9 L337.0,1256.1 L340.5,1270.1 L344.0,1264.5 L346.8,1261.7 L349.6,1272.9 L351.7,1289.7 L353.8,1309.4 L355.9,1320.6 L358.0,1330.4 L360.8,1338.8 L365.0,1341.6 L367.2,1354.2 L370.0,1372.4 L373.5,1375.2 L377.7,1375.2 L380.5,1385.1 L383.3,1393.5 L385.8,1399.4 L388.8,1409.9 L393.3,1417.4 L397.8,1424.9 L402.2,1432.3 L406.7,1439.8 L411.2,1445.8 L417.2,1451.8 L423.2,1456.3 L430.7,1459.5 L516.1,1459.5" fill="none" stroke="#ff4040" stroke-width="3.3" stroke-linejoin="round" stroke-linecap="round"/>
<path d="M119.5,1459.5 L207.6,1459.5 L214.6,1442.3 L221.6,1414.2 L228.6,1372.2 L234.3,1344.1 L238.5,1327.3 L242.7,1325.9 L245.5,1318.9 L248.3,1292.2 L250.4,1285.2 L252.5,1302.1 L255.3,1310.5 L258.1,1295.0 L260.9,1274.0 L263.7,1271.2 L267.9,1276.8 L272.1,1268.4 L272.8,1255.4 L276.3,1230.2 L279.1,1230.2 L282.6,1244.2 L285.4,1241.4 L287.5,1248.4 L290.3,1254.0 L293.1,1248.4 L295.9,1238.6 L299.4,1237.2 L302.2,1245.6 L305.8,1249.8 L308.6,1241.4 L311.4,1240.0 L314.9,1244.2 L318.4,1251.2 L321.9,1263.8 L324.0,1270.9 L327.5,1269.5 L330.0,1265.9 L333.5,1274.3 L338.4,1284.1 L342.6,1278.5 L345.4,1278.5 L349.6,1298.1 L353.1,1310.8 L357.3,1312.2 L360.8,1329.0 L364.3,1338.8 L369.3,1337.4 L372.1,1343.0 L374.9,1351.4 L378.4,1364.0 L381.9,1376.6 L385.8,1387.5 L390.3,1393.5 L394.0,1402.4 L397.8,1414.4 L402.2,1423.4 L408.2,1430.8 L414.2,1435.3 L421.7,1441.3 L427.7,1445.8 L433.6,1450.3 L439.6,1454.8 L445.6,1457.0 L450.1,1459.5 L516.1,1459.5 Z" fill="rgba(53,154,225,0.25)" stroke="none"/>
<path d="M119.5,1459.5 L207.6,1459.5 L214.6,1442.3 L221.6,1414.2 L228.6,1372.2 L234.3,1344.1 L238.5,1327.3 L242.7,1325.9 L245.5,1318.9 L248.3,1292.2 L250.4,1285.2 L252.5,1302.1 L255.3,1310.5 L258.1,1295.0 L260.9,1274.0 L263.7,1271.2 L267.9,1276.8 L272.1,1268.4 L272.8,1255.4 L276.3,1230.2 L279.1,1230.2 L282.6,1244.2 L285.4,1241.4 L287.5,1248.4 L290.3,1254.0 L293.1,1248.4 L295.9,1238.6 L299.4,1237.2 L302.2,1245.6 L305.8,1249.8 L308.6,1241.4 L311.4,1240.0 L314.9,1244.2 L318.4,1251.2 L321.9,1263.8 L324.0,1270.9 L327.5,1269.5 L330.0,1265.9 L333.5,1274.3 L338.4,1284.1 L342.6,1278.5 L345.4,1278.5 L349.6,1298.1 L353.1,1310.8 L357.3,1312.2 L360.8,1329.0 L364.3,1338.8 L369.3,1337.4 L372.1,1343.0 L374.9,1351.4 L378.4,1364.0 L381.9,1376.6 L385.8,1387.5 L390.3,1393.5 L394.0,1402.4 L397.8,1414.4 L402.2,1423.4 L408.2,1430.8 L414.2,1435.3 L421.7,1441.3 L427.7,1445.8 L433.6,1450.3 L439.6,1454.8 L445.6,1457.0 L450.1,1459.5 L516.1,1459.5" fill="none" stroke="#0a78ff" stroke-width="3.3" stroke-linejoin="round" stroke-linecap="round"/>
<path d="M119.5,1459.5 L209.0,1459.1 L216.0,1400.2 L221.6,1330.1 L223.7,1290.0 L225.8,1272.3 L227.9,1259.6 L230.7,1259.6 L233.6,1266.0 L235.7,1262.4 L238.5,1252.6 L242.7,1244.9 L245.5,1252.6 L247.6,1258.2 L249.7,1256.8 L252.5,1261.0 L256.7,1265.2 L259.5,1263.8 L261.6,1255.4 L263.7,1259.6 L266.5,1270.9 L269.3,1275.0 L272.1,1265.2 L274.2,1244.2 L276.3,1240.0 L279.1,1248.4 L281.9,1256.8 L285.4,1259.6 L288.9,1260.3 L293.1,1262.4 L297.3,1263.8 L300.8,1265.2 L303.7,1258.2 L305.8,1265.2 L308.6,1283.5 L311.4,1285.6 L315.6,1286.3 L318.4,1286.6 L321.9,1282.4 L326.8,1304.9 L330.0,1306.5 L331.4,1319.2 L334.9,1322.0 L337.7,1320.6 L339.8,1329.0 L342.6,1341.6 L346.8,1344.4 L350.3,1350.0 L353.8,1359.8 L358.0,1366.8 L362.2,1366.8 L366.4,1380.0 L369.3,1389.0 L373.8,1397.9 L379.1,1402.4 L382.8,1409.9 L386.5,1417.4 L391.8,1421.9 L396.3,1424.9 L401.5,1430.8 L406.0,1436.8 L409.7,1442.8 L414.2,1448.8 L420.2,1453.3 L427.7,1456.3 L436.6,1459.5 L516.1,1459.5" fill="none" stroke="#80ff00" stroke-width="3.3" stroke-linejoin="round" stroke-linecap="round"/>
<path d="M119.5,1459.5 L209.0,1459.5 L214.6,1435.2 L217.4,1372.2 L219.5,1260.0 L220.9,1244.2 L222.3,1209.2 L223.7,1196.5 L225.8,1179.7 L227.9,1172.7 L230.7,1169.2 L232.2,1179.7 L233.6,1193.7 L235.0,1205.0 L237.1,1209.2 L239.2,1213.4 L242.0,1219.0 L244.8,1213.4 L247.6,1215.5 L250.4,1224.6 L252.5,1233.0 L255.3,1242.8 L257.4,1249.8 L260.9,1251.2 L263.7,1255.4 L266.5,1261.0 L269.3,1258.2 L272.1,1251.2 L274.9,1255.4 L277.7,1262.4 L281.9,1268.0 L286.1,1275.0 L290.3,1280.7 L293.1,1288.0 L298.7,1281.0 L305.8,1288.0 L311.4,1293.6 L315.6,1290.8 L319.8,1302.1 L322.6,1313.3 L326.8,1316.1 L329.6,1328.0 L332.1,1340.2 L334.2,1354.2 L337.0,1352.8 L340.5,1345.8 L344.0,1350.0 L347.5,1357.0 L351.7,1359.8 L355.2,1368.2 L357.4,1380.0 L361.9,1384.5 L366.4,1392.0 L370.8,1399.4 L375.3,1406.9 L379.8,1414.4 L385.8,1420.4 L390.3,1424.9 L394.8,1432.3 L399.3,1438.3 L405.2,1441.3 L409.7,1444.3 L415.7,1445.8 L421.7,1450.3 L427.7,1454.8 L436.6,1457.0 L447.1,1457.8 L459.1,1459.5 L516.1,1459.5" fill="none" stroke="#ff8282" stroke-width="3.3" stroke-linejoin="round" stroke-linecap="round"/>
<path d="M119.5,1459.5 L200.6,1459.5 L206.2,1456.3 L210.4,1435.2 L212.5,1400.2 L213.9,1358.1 L215.3,1302.1 L216.0,1290.0 L218.1,1244.2 L220.2,1188.1 L222.3,1139.1 L223.0,1118.0 L224.7,1109.6 L227.2,1113.8 L229.3,1111.0 L231.7,1109.6 L233.6,1104.0 L236.4,1101.2 L237.8,1109.6 L239.9,1122.2 L243.4,1123.6 L246.2,1123.6 L249.0,1136.3 L251.1,1148.9 L253.2,1162.9 L255.3,1174.1 L259.5,1182.5 L262.3,1185.3 L265.1,1196.5 L267.2,1206.4 L270.7,1212.0 L273.5,1216.2 L276.3,1224.6 L279.1,1230.2 L281.2,1238.6 L283.3,1244.2 L286.1,1245.6 L288.2,1247.0 L290.3,1258.2 L293.1,1269.5 L295.2,1274.9 L298.7,1274.0 L301.5,1278.2 L304.4,1302.1 L310.0,1307.7 L314.2,1323.1 L318.4,1338.5 L321.9,1355.3 L326.8,1360.9 L331.0,1375.0 L335.0,1389.0 L339.4,1399.4 L346.2,1406.9 L351.4,1409.9 L355.9,1418.9 L360.4,1429.3 L364.9,1439.8 L370.8,1445.8 L378.3,1449.5 L384.3,1453.3 L390.3,1457.0 L394.8,1458.5 L403.7,1459.5 L516.1,1459.5" fill="none" stroke="#4ba3ff" stroke-width="3.3" stroke-linejoin="round" stroke-linecap="round"/>
<rect x="119.5" y="1065.0" width="396.6" height="396.4" fill="none" stroke="#000" stroke-width="1.5"/>
<line x1="108.5" y1="1460.9" x2="119.5" y2="1460.9" stroke="#000" stroke-width="3.2" stroke-linecap="butt"/>
<text font-size="29.3" text-anchor="end" font-weight="normal" transform="translate(103.70,1469.50) scale(1,1.0)">0</text>
<line x1="114.5" y1="1439.7" x2="119.5" y2="1439.7" stroke="#000" stroke-width="1.5" stroke-linecap="butt"/>
<line x1="114.5" y1="1418.5" x2="119.5" y2="1418.5" stroke="#000" stroke-width="1.5" stroke-linecap="butt"/>
<line x1="114.5" y1="1397.3" x2="119.5" y2="1397.3" stroke="#000" stroke-width="1.5" stroke-linecap="butt"/>
<line x1="114.5" y1="1376.1" x2="119.5" y2="1376.1" stroke="#000" stroke-width="1.5" stroke-linecap="butt"/>
<line x1="108.5" y1="1354.9" x2="119.5" y2="1354.9" stroke="#000" stroke-width="3.2" stroke-linecap="butt"/>
<text font-size="29.3" text-anchor="end" font-weight="normal" transform="translate(103.70,1363.50) scale(1,1.0)">50</text>
<line x1="114.5" y1="1333.7" x2="119.5" y2="1333.7" stroke="#000" stroke-width="1.5" stroke-linecap="butt"/>
<line x1="114.5" y1="1312.5" x2="119.5" y2="1312.5" stroke="#000" stroke-width="1.5" stroke-linecap="butt"/>
<line x1="114.5" y1="1291.3" x2="119.5" y2="1291.3" stroke="#000" stroke-width="1.5" stroke-linecap="butt"/>
<line x1="114.5" y1="1270.1" x2="119.5" y2="1270.1" stroke="#000" stroke-width="1.5" stroke-linecap="butt"/>
<line x1="108.5" y1="1248.9" x2="119.5" y2="1248.9" stroke="#000" stroke-width="3.2" stroke-linecap="butt"/>
<text font-size="29.3" text-anchor="end" font-weight="normal" transform="translate(103.70,1257.50) scale(1,1.0)">100</text>
<line x1="114.5" y1="1227.7" x2="119.5" y2="1227.7" stroke="#000" stroke-width="1.5" stroke-linecap="butt"/>
<line x1="114.5" y1="1206.5" x2="119.5" y2="1206.5" stroke="#000" stroke-width="1.5" stroke-linecap="butt"/>
<line x1="114.5" y1="1185.3" x2="119.5" y2="1185.3" stroke="#000" stroke-width="1.5" stroke-linecap="butt"/>
<line x1="114.5" y1="1164.1" x2="119.5" y2="1164.1" stroke="#000" stroke-width="1.5" stroke-linecap="butt"/>
<line x1="108.5" y1="1142.9" x2="119.5" y2="1142.9" stroke="#000" stroke-width="3.2" stroke-linecap="butt"/>
<text font-size="29.3" text-anchor="end" font-weight="normal" transform="translate(103.70,1151.50) scale(1,1.0)">150</text>
<line x1="114.5" y1="1121.7" x2="119.5" y2="1121.7" stroke="#000" stroke-width="1.5" stroke-linecap="butt"/>
<line x1="114.5" y1="1100.5" x2="119.5" y2="1100.5" stroke="#000" stroke-width="1.5" stroke-linecap="butt"/>
<line x1="114.5" y1="1079.3" x2="119.5" y2="1079.3" stroke="#000" stroke-width="1.5" stroke-linecap="butt"/>
<line x1="144.2" y1="1461.4" x2="144.2" y2="1472.9" stroke="#000" stroke-width="3.2" stroke-linecap="butt"/>
<line x1="274.6" y1="1461.4" x2="274.6" y2="1472.9" stroke="#000" stroke-width="3.2" stroke-linecap="butt"/>
<line x1="382.1" y1="1461.4" x2="382.1" y2="1472.9" stroke="#000" stroke-width="3.2" stroke-linecap="butt"/>
<line x1="476.7" y1="1461.4" x2="476.7" y2="1472.9" stroke="#000" stroke-width="3.2" stroke-linecap="butt"/>
<line x1="172.3" y1="1461.4" x2="172.3" y2="1469.9" stroke="#000" stroke-width="3" stroke-linecap="butt"/>
<line x1="245.2" y1="1461.4" x2="245.2" y2="1469.9" stroke="#000" stroke-width="3" stroke-linecap="butt"/>
<line x1="354.0" y1="1461.4" x2="354.0" y2="1469.9" stroke="#000" stroke-width="3" stroke-linecap="butt"/>
<line x1="449.3" y1="1461.4" x2="449.3" y2="1469.9" stroke="#000" stroke-width="3" stroke-linecap="butt"/>
<line x1="148.4" y1="1461.4" x2="148.4" y2="1466.6" stroke="#000" stroke-width="1.6" stroke-linecap="butt"/>
<line x1="153.3" y1="1461.4" x2="153.3" y2="1466.6" stroke="#000" stroke-width="1.6" stroke-linecap="butt"/>
<line x1="156.8" y1="1461.4" x2="156.8" y2="1466.6" stroke="#000" stroke-width="1.6" stroke-linecap="butt"/>
<line x1="160.3" y1="1461.4" x2="160.3" y2="1466.6" stroke="#000" stroke-width="1.6" stroke-linecap="butt"/>
<line x1="165.2" y1="1461.4" x2="165.2" y2="1466.6" stroke="#000" stroke-width="1.6" stroke-linecap="butt"/>
<line x1="168.8" y1="1461.4" x2="168.8" y2="1466.6" stroke="#000" stroke-width="1.6" stroke-linecap="butt"/>
<line x1="176.5" y1="1461.4" x2="176.5" y2="1466.6" stroke="#000" stroke-width="1.6" stroke-linecap="butt"/>
<line x1="180.7" y1="1461.4" x2="180.7" y2="1466.6" stroke="#000" stroke-width="1.6" stroke-linecap="butt"/>
<line x1="184.9" y1="1461.4" x2="184.9" y2="1466.6" stroke="#000" stroke-width="1.6" stroke-linecap="butt"/>
<line x1="189.8" y1="1461.4" x2="189.8" y2="1466.6" stroke="#000" stroke-width="1.6" stroke-linecap="butt"/>
<line x1="194.0" y1="1461.4" x2="194.0" y2="1466.6" stroke="#000" stroke-width="1.6" stroke-linecap="butt"/>
<line x1="197.5" y1="1461.4" x2="197.5" y2="1466.6" stroke="#000" stroke-width="1.6" stroke-linecap="butt"/>
<line x1="223.4" y1="1461.4" x2="223.4" y2="1466.6" stroke="#000" stroke-width="1.6" stroke-linecap="butt"/>
<line x1="227.6" y1="1461.4" x2="227.6" y2="1466.6" stroke="#000" stroke-width="1.6" stroke-linecap="butt"/>
<line x1="231.8" y1="1461.4" x2="231.8" y2="1466.6" stroke="#000" stroke-width="1.6" stroke-linecap="butt"/>
<line x1="235.3" y1="1461.4" x2="235.3" y2="1466.6" stroke="#000" stroke-width="1.6" stroke-linecap="butt"/>
<line x1="239.5" y1="1461.4" x2="239.5" y2="1466.6" stroke="#000" stroke-width="1.6" stroke-linecap="butt"/>
<line x1="250.1" y1="1461.4" x2="250.1" y2="1466.6" stroke="#000" stroke-width="1.6" stroke-linecap="butt"/>
<line x1="253.6" y1="1461.4" x2="253.6" y2="1466.6" stroke="#000" stroke-width="1.6" stroke-linecap="butt"/>
<line x1="257.8" y1="1461.4" x2="257.8" y2="1466.6" stroke="#000" stroke-width="1.6" stroke-linecap="butt"/>
<line x1="260.6" y1="1461.4" x2="260.6" y2="1466.6" stroke="#000" stroke-width="1.6" stroke-linecap="butt"/>
<line x1="264.8" y1="1461.4" x2="264.8" y2="1466.6" stroke="#000" stroke-width="1.6" stroke-linecap="butt"/>
<line x1="267.6" y1="1461.4" x2="267.6" y2="1466.6" stroke="#000" stroke-width="1.6" stroke-linecap="butt"/>
<line x1="270.4" y1="1461.4" x2="270.4" y2="1466.6" stroke="#000" stroke-width="1.6" stroke-linecap="butt"/>
<line x1="308.7" y1="1461.4" x2="308.7" y2="1466.6" stroke="#000" stroke-width="1.6" stroke-linecap="butt"/>
<line x1="328.2" y1="1461.4" x2="328.2" y2="1466.6" stroke="#000" stroke-width="1.6" stroke-linecap="butt"/>
<line x1="342.1" y1="1461.4" x2="342.1" y2="1466.6" stroke="#000" stroke-width="1.6" stroke-linecap="butt"/>
<line x1="348.0" y1="1461.4" x2="348.0" y2="1466.6" stroke="#000" stroke-width="1.6" stroke-linecap="butt"/>
<line x1="358.8" y1="1461.4" x2="358.8" y2="1466.6" stroke="#000" stroke-width="1.6" stroke-linecap="butt"/>
<line x1="362.3" y1="1461.4" x2="362.3" y2="1466.6" stroke="#000" stroke-width="1.6" stroke-linecap="butt"/>
<line x1="367.1" y1="1461.4" x2="367.1" y2="1466.6" stroke="#000" stroke-width="1.6" stroke-linecap="butt"/>
<line x1="371.8" y1="1461.4" x2="371.8" y2="1466.6" stroke="#000" stroke-width="1.6" stroke-linecap="butt"/>
<line x1="376.6" y1="1461.4" x2="376.6" y2="1466.6" stroke="#000" stroke-width="1.6" stroke-linecap="butt"/>
<line x1="412.4" y1="1461.4" x2="412.4" y2="1466.6" stroke="#000" stroke-width="1.6" stroke-linecap="butt"/>
<line x1="430.2" y1="1461.4" x2="430.2" y2="1466.6" stroke="#000" stroke-width="1.6" stroke-linecap="butt"/>
<line x1="441.0" y1="1461.4" x2="441.0" y2="1466.6" stroke="#000" stroke-width="1.6" stroke-linecap="butt"/>
<line x1="456.5" y1="1461.4" x2="456.5" y2="1466.6" stroke="#000" stroke-width="1.6" stroke-linecap="butt"/>
<line x1="461.2" y1="1461.4" x2="461.2" y2="1466.6" stroke="#000" stroke-width="1.6" stroke-linecap="butt"/>
<line x1="466.0" y1="1461.4" x2="466.0" y2="1466.6" stroke="#000" stroke-width="1.6" stroke-linecap="butt"/>
<line x1="470.8" y1="1461.4" x2="470.8" y2="1466.6" stroke="#000" stroke-width="1.6" stroke-linecap="butt"/>
<line x1="504.1" y1="1461.4" x2="504.1" y2="1466.6" stroke="#000" stroke-width="1.6" stroke-linecap="butt"/>
<path d="M200.3,1461.4 H218.5 V1472.9 H215.7 V1469.2 H211.3 V1472.9 H206.1 V1469.2 H203.8 V1472.9 H200.3 Z" fill="#000"/>
<text font-size="29.3" text-anchor="start" font-weight="normal" transform="translate(108.80,1500.30) scale(1,1.0)">-10<tspan font-size="17" dx="0.6" dy="-10">3</tspan></text>
<text font-size="29.3" text-anchor="middle" font-weight="normal" transform="translate(209.30,1500.30) scale(1,1.0)">0</text>
<text font-size="29.3" text-anchor="start" font-weight="normal" transform="translate(256.10,1500.30) scale(1,1.0)">10<tspan font-size="17" dx="0.6" dy="-10">3</tspan></text>
<text font-size="29.3" text-anchor="start" font-weight="normal" transform="translate(360.70,1500.30) scale(1,1.0)">10<tspan font-size="17" dx="0.6" dy="-10">4</tspan></text>
<text font-size="29.3" text-anchor="start" font-weight="normal" transform="translate(457.50,1500.30) scale(1,1.0)">10<tspan font-size="17" dx="0.6" dy="-10">5</tspan></text>
<text font-size="29.3" text-anchor="middle" font-weight="normal" transform="translate(322.00,1532.60) scale(1,1.0)">AF647_A</text>
<text font-size="29.3" text-anchor="middle" font-weight="normal" transform="translate(43.30,1287.00) rotate(-90) scale(1,1.0)">Count</text>
<rect x="321.0" y="1078.0" width="11.2" height="11.2" fill="#fff" stroke="#4ba3ff" stroke-width="1.6"/>
<text font-size="26.1" text-anchor="start" font-weight="normal" transform="translate(340.80,1089.00) scale(1,1.0)">siCtrl</text>
<rect x="321.0" y="1103.5" width="11.2" height="11.2" fill="#fff" stroke="#ff8282" stroke-width="1.6"/>
<text font-size="26.1" text-anchor="start" font-weight="normal" transform="translate(340.80,1114.50) scale(1,1.0)">siMA-1</text>
<rect x="321.0" y="1129.0" width="11.2" height="11.2" fill="#fff" stroke="#80ff00" stroke-width="1.6"/>
<text font-size="26.1" text-anchor="start" font-weight="normal" transform="translate(340.80,1140.00) scale(1,1.0)">siMA-2</text>
<rect x="321.0" y="1154.5" width="11.2" height="11.2" fill="#cfe4fa" stroke="#0a78ff" stroke-width="1.6"/>
<text font-size="26.1" text-anchor="start" font-weight="normal" transform="translate(340.80,1165.50) scale(1,1.0)">siCtrlNaB</text>
<rect x="321.0" y="1180.0" width="11.2" height="11.2" fill="#fddcdc" stroke="#ff4040" stroke-width="1.6"/>
<text font-size="26.1" text-anchor="start" font-weight="normal" transform="translate(340.80,1191.00) scale(1,1.0)">siMA-1 + NaB</text>
<rect x="321.0" y="1205.5" width="11.2" height="11.2" fill="#d0f7d0" stroke="#10ee10" stroke-width="1.6"/>
<text font-size="26.1" text-anchor="start" font-weight="normal" transform="translate(340.80,1216.50) scale(1,1.0)">siMA-2 + NaB</text>
<text font-size="38.5" text-anchor="start" font-weight="bold" transform="translate(0.80,1079.30) scale(1,1.0)">D</text>
<path d="M116.7,1965.7 L206.8,1965.7 L213.3,1949.7 L218.6,1930.1 L223.8,1919.6 L229.0,1909.2 L232.9,1896.1 L236.9,1885.6 L240.8,1877.8 L244.7,1869.9 L248.6,1868.6 L252.6,1859.4 L256.5,1854.2 L260.4,1849.0 L264.3,1841.1 L268.3,1833.3 L272.2,1830.7 L276.1,1833.3 L280.0,1828.0 L284.0,1825.4 L287.9,1822.8 L291.8,1825.4 L294.4,1824.1 L298.4,1828.0 L300.0,1831.9 L302.6,1833.2 L305.9,1839.7 L309.2,1834.5 L313.1,1841.0 L317.0,1838.4 L319.6,1842.3 L322.2,1848.9 L326.2,1856.7 L330.1,1865.9 L335.3,1863.3 L337.9,1871.1 L340.6,1881.6 L344.5,1892.1 L349.7,1898.6 L355.0,1903.8 L357.6,1915.6 L360.2,1924.8 L364.1,1932.6 L369.3,1940.5 L375.9,1947.0 L382.4,1953.6 L389.0,1958.8 L396.8,1962.7 L404.7,1964.7 L415.0,1965.7 L513.6,1965.7 Z" fill="rgba(80,230,90,0.15)" stroke="none"/>
<path d="M116.7,1965.7 L206.8,1965.7 L213.3,1949.7 L218.6,1930.1 L223.8,1919.6 L229.0,1909.2 L232.9,1896.1 L236.9,1885.6 L240.8,1877.8 L244.7,1869.9 L248.6,1868.6 L252.6,1859.4 L256.5,1854.2 L260.4,1849.0 L264.3,1841.1 L268.3,1833.3 L272.2,1830.7 L276.1,1833.3 L280.0,1828.0 L284.0,1825.4 L287.9,1822.8 L291.8,1825.4 L294.4,1824.1 L298.4,1828.0 L300.0,1831.9 L302.6,1833.2 L305.9,1839.7 L309.2,1834.5 L313.1,1841.0 L317.0,1838.4 L319.6,1842.3 L322.2,1848.9 L326.2,1856.7 L330.1,1865.9 L335.3,1863.3 L337.9,1871.1 L340.6,1881.6 L344.5,1892.1 L349.7,1898.6 L355.0,1903.8 L357.6,1915.6 L360.2,1924.8 L364.1,1932.6 L369.3,1940.5 L375.9,1947.0 L382.4,1953.6 L389.0,1958.8 L396.8,1962.7 L404.7,1964.7 L415.0,1965.7 L513.6,1965.7" fill="none" stroke="#3cf53c" stroke-width="3.3" stroke-linejoin="round" stroke-linecap="round"/>
<path d="M116.7,1965.7 L205.5,1965.7 L212.0,1943.2 L217.2,1917.0 L221.2,1905.2 L225.1,1890.8 L229.0,1877.8 L232.9,1864.7 L236.9,1859.4 L240.8,1854.2 L244.7,1846.4 L248.6,1841.1 L252.6,1849.0 L256.5,1850.3 L260.4,1841.1 L264.3,1832.0 L268.3,1832.0 L272.2,1835.9 L276.1,1837.2 L279.4,1841.1 L282.0,1834.6 L284.6,1820.2 L286.6,1818.9 L289.2,1828.0 L293.1,1832.0 L297.1,1838.5 L300.0,1843.6 L303.9,1846.3 L309.2,1850.2 L313.1,1858.0 L317.0,1865.9 L322.2,1869.8 L327.5,1868.5 L331.4,1873.7 L335.3,1881.6 L339.3,1882.9 L341.9,1893.4 L344.5,1903.8 L348.4,1913.0 L353.6,1919.5 L358.9,1924.8 L362.8,1933.9 L368.0,1941.8 L374.6,1948.3 L381.1,1953.6 L387.7,1958.8 L394.2,1961.4 L404.7,1963.4 L415.1,1964.7 L425.0,1965.7 L513.6,1965.7 Z" fill="rgba(255,110,110,0.25)" stroke="none"/>
<path d="M116.7,1965.7 L205.5,1965.7 L212.0,1943.2 L217.2,1917.0 L221.2,1905.2 L225.1,1890.8 L229.0,1877.8 L232.9,1864.7 L236.9,1859.4 L240.8,1854.2 L244.7,1846.4 L248.6,1841.1 L252.6,1849.0 L256.5,1850.3 L260.4,1841.1 L264.3,1832.0 L268.3,1832.0 L272.2,1835.9 L276.1,1837.2 L279.4,1841.1 L282.0,1834.6 L284.6,1820.2 L286.6,1818.9 L289.2,1828.0 L293.1,1832.0 L297.1,1838.5 L300.0,1843.6 L303.9,1846.3 L309.2,1850.2 L313.1,1858.0 L317.0,1865.9 L322.2,1869.8 L327.5,1868.5 L331.4,1873.7 L335.3,1881.6 L339.3,1882.9 L341.9,1893.4 L344.5,1903.8 L348.4,1913.0 L353.6,1919.5 L358.9,1924.8 L362.8,1933.9 L368.0,1941.8 L374.6,1948.3 L381.1,1953.6 L387.7,1958.8 L394.2,1961.4 L404.7,1963.4 L415.1,1964.7 L425.0,1965.7 L513.6,1965.7" fill="none" stroke="#ff4040" stroke-width="3.3" stroke-linejoin="round" stroke-linecap="round"/>
<path d="M116.7,1965.7 L204.2,1965.7 L209.4,1956.3 L214.6,1930.1 L218.6,1903.9 L221.2,1884.3 L225.1,1875.1 L229.0,1862.1 L232.9,1856.8 L236.9,1846.4 L239.5,1838.5 L242.1,1833.3 L244.7,1817.6 L247.3,1813.6 L251.3,1815.0 L255.2,1815.0 L259.1,1817.6 L263.0,1821.5 L268.3,1822.8 L272.2,1828.0 L274.8,1833.3 L277.4,1828.0 L280.0,1824.1 L284.0,1830.7 L286.6,1841.1 L289.2,1847.7 L292.5,1841.1 L295.7,1839.8 L298.4,1843.7 L300.0,1845.0 L302.6,1852.8 L306.5,1852.8 L310.5,1863.3 L314.4,1879.0 L319.6,1877.7 L323.6,1886.8 L326.2,1894.7 L331.4,1902.5 L336.6,1910.4 L341.9,1916.9 L345.8,1926.1 L349.7,1935.2 L355.0,1937.8 L358.9,1940.5 L362.8,1948.3 L366.7,1953.6 L372.0,1957.5 L378.5,1960.1 L386.4,1962.7 L396.8,1964.7 L405.0,1965.7 L513.6,1965.7 Z" fill="rgba(53,140,200,0.28)" stroke="none"/>
<path d="M116.7,1965.7 L204.2,1965.7 L209.4,1956.3 L214.6,1930.1 L218.6,1903.9 L221.2,1884.3 L225.1,1875.1 L229.0,1862.1 L232.9,1856.8 L236.9,1846.4 L239.5,1838.5 L242.1,1833.3 L244.7,1817.6 L247.3,1813.6 L251.3,1815.0 L255.2,1815.0 L259.1,1817.6 L263.0,1821.5 L268.3,1822.8 L272.2,1828.0 L274.8,1833.3 L277.4,1828.0 L280.0,1824.1 L284.0,1830.7 L286.6,1841.1 L289.2,1847.7 L292.5,1841.1 L295.7,1839.8 L298.4,1843.7 L300.0,1845.0 L302.6,1852.8 L306.5,1852.8 L310.5,1863.3 L314.4,1879.0 L319.6,1877.7 L323.6,1886.8 L326.2,1894.7 L331.4,1902.5 L336.6,1910.4 L341.9,1916.9 L345.8,1926.1 L349.7,1935.2 L355.0,1937.8 L358.9,1940.5 L362.8,1948.3 L366.7,1953.6 L372.0,1957.5 L378.5,1960.1 L386.4,1962.7 L396.8,1964.7 L405.0,1965.7 L513.6,1965.7" fill="none" stroke="#0a78ff" stroke-width="3.3" stroke-linejoin="round" stroke-linecap="round"/>
<path d="M116.7,1965.7 L209.4,1965.7 L213.3,1890.8 L215.8,1800.0 L217.5,1769.4 L219.2,1751.5 L222.0,1751.5 L223.6,1757.1 L225.9,1744.8 L227.6,1733.5 L229.3,1751.5 L232.6,1751.5 L236.0,1763.8 L239.3,1767.2 L242.7,1770.0 L247.3,1779.6 L252.6,1799.3 L256.5,1808.4 L260.4,1817.6 L264.3,1830.7 L269.6,1841.1 L273.5,1845.0 L276.1,1847.7 L278.7,1855.5 L281.4,1862.1 L285.3,1860.7 L287.9,1864.7 L290.5,1875.1 L294.4,1885.6 L298.4,1889.5 L300.0,1890.7 L303.9,1894.7 L307.9,1902.5 L311.8,1911.7 L315.7,1914.3 L319.6,1918.2 L323.6,1926.1 L327.5,1933.9 L331.4,1935.2 L335.3,1939.2 L340.6,1943.1 L347.1,1945.7 L352.3,1948.3 L357.6,1953.6 L364.1,1957.5 L372.0,1960.1 L381.1,1962.7 L394.2,1964.7 L405.0,1965.7 L513.6,1965.7" fill="none" stroke="#80ff00" stroke-width="3.3" stroke-linejoin="round" stroke-linecap="round"/>
<path d="M116.7,1965.7 L208.1,1965.7 L212.0,1890.8 L212.4,1800.0 L215.2,1758.2 L218.0,1713.4 L220.3,1693.2 L223.1,1696.5 L225.9,1703.3 L228.7,1719.0 L230.4,1729.1 L233.2,1722.3 L236.0,1733.5 L238.8,1747.0 L241.6,1756.0 L245.0,1768.0 L247.3,1775.7 L250.0,1790.1 L252.6,1799.3 L255.2,1818.9 L257.8,1835.9 L261.7,1833.3 L265.7,1835.9 L268.3,1846.4 L272.2,1858.1 L276.1,1867.3 L280.0,1877.8 L284.0,1885.6 L289.2,1894.8 L295.7,1898.7 L300.0,1900.0 L303.9,1905.1 L307.9,1914.3 L311.8,1927.4 L315.7,1931.3 L320.9,1935.2 L326.2,1937.8 L331.4,1941.8 L336.6,1945.7 L341.9,1952.2 L347.1,1956.2 L355.0,1958.1 L362.8,1960.1 L373.3,1962.7 L383.7,1964.7 L395.0,1965.7 L513.6,1965.7" fill="none" stroke="#ff8282" stroke-width="3.3" stroke-linejoin="round" stroke-linecap="round"/>
<path d="M116.7,1965.7 L200.2,1965.7 L204.2,1961.5 L206.8,1943.2 L208.7,1890.8 L210.0,1825.4 L210.2,1800.0 L211.9,1747.0 L213.6,1690.9 L215.8,1646.1 L217.8,1606.8 L219.2,1597.9 L221.4,1601.2 L223.1,1605.7 L224.8,1600.7 L227.0,1603.5 L228.7,1634.9 L230.4,1675.2 L233.2,1702.1 L236.0,1730.2 L238.2,1749.2 L240.5,1766.0 L242.1,1769.2 L246.0,1779.6 L248.0,1792.7 L250.0,1812.3 L251.9,1832.0 L253.9,1845.0 L257.8,1856.8 L261.7,1863.4 L266.3,1862.1 L268.9,1871.2 L270.9,1883.0 L273.5,1890.8 L277.4,1896.1 L281.4,1906.5 L286.6,1913.1 L291.8,1917.0 L295.7,1924.9 L300.0,1930.0 L303.9,1936.5 L309.2,1941.8 L314.4,1945.7 L320.9,1948.3 L326.2,1950.9 L332.7,1954.9 L339.3,1958.8 L345.8,1960.1 L355.0,1962.7 L365.4,1964.7 L375.0,1965.7 L513.6,1965.7" fill="none" stroke="#4ba3ff" stroke-width="3.3" stroke-linejoin="round" stroke-linecap="round"/>
<rect x="116.7" y="1571.5" width="396.9" height="396.3" fill="none" stroke="#000" stroke-width="1.5"/>
<line x1="105.7" y1="1966.5" x2="116.7" y2="1966.5" stroke="#000" stroke-width="3.2" stroke-linecap="butt"/>
<text font-size="29.3" text-anchor="end" font-weight="normal" transform="translate(103.30,1975.10) scale(1,1.0)">0</text>
<line x1="111.7" y1="1938.8" x2="116.7" y2="1938.8" stroke="#000" stroke-width="1.5" stroke-linecap="butt"/>
<line x1="111.7" y1="1911.0" x2="116.7" y2="1911.0" stroke="#000" stroke-width="1.5" stroke-linecap="butt"/>
<line x1="111.7" y1="1883.2" x2="116.7" y2="1883.2" stroke="#000" stroke-width="1.5" stroke-linecap="butt"/>
<line x1="105.7" y1="1855.5" x2="116.7" y2="1855.5" stroke="#000" stroke-width="3.2" stroke-linecap="butt"/>
<text font-size="29.3" text-anchor="end" font-weight="normal" transform="translate(103.30,1864.10) scale(1,1.0)">100</text>
<line x1="111.7" y1="1827.8" x2="116.7" y2="1827.8" stroke="#000" stroke-width="1.5" stroke-linecap="butt"/>
<line x1="111.7" y1="1800.0" x2="116.7" y2="1800.0" stroke="#000" stroke-width="1.5" stroke-linecap="butt"/>
<line x1="111.7" y1="1772.2" x2="116.7" y2="1772.2" stroke="#000" stroke-width="1.5" stroke-linecap="butt"/>
<line x1="105.7" y1="1744.5" x2="116.7" y2="1744.5" stroke="#000" stroke-width="3.2" stroke-linecap="butt"/>
<text font-size="29.3" text-anchor="end" font-weight="normal" transform="translate(103.30,1753.10) scale(1,1.0)">200</text>
<line x1="111.7" y1="1716.8" x2="116.7" y2="1716.8" stroke="#000" stroke-width="1.5" stroke-linecap="butt"/>
<line x1="111.7" y1="1689.0" x2="116.7" y2="1689.0" stroke="#000" stroke-width="1.5" stroke-linecap="butt"/>
<line x1="111.7" y1="1661.2" x2="116.7" y2="1661.2" stroke="#000" stroke-width="1.5" stroke-linecap="butt"/>
<line x1="105.7" y1="1633.5" x2="116.7" y2="1633.5" stroke="#000" stroke-width="3.2" stroke-linecap="butt"/>
<text font-size="29.3" text-anchor="end" font-weight="normal" transform="translate(103.30,1642.10) scale(1,1.0)">300</text>
<line x1="111.7" y1="1605.8" x2="116.7" y2="1605.8" stroke="#000" stroke-width="1.5" stroke-linecap="butt"/>
<line x1="111.7" y1="1578.0" x2="116.7" y2="1578.0" stroke="#000" stroke-width="1.5" stroke-linecap="butt"/>
<line x1="141.4" y1="1967.8" x2="141.4" y2="1979.3" stroke="#000" stroke-width="3.2" stroke-linecap="butt"/>
<line x1="271.8" y1="1967.8" x2="271.8" y2="1979.3" stroke="#000" stroke-width="3.2" stroke-linecap="butt"/>
<line x1="379.3" y1="1967.8" x2="379.3" y2="1979.3" stroke="#000" stroke-width="3.2" stroke-linecap="butt"/>
<line x1="473.9" y1="1967.8" x2="473.9" y2="1979.3" stroke="#000" stroke-width="3.2" stroke-linecap="butt"/>
<line x1="169.5" y1="1967.8" x2="169.5" y2="1976.3" stroke="#000" stroke-width="3" stroke-linecap="butt"/>
<line x1="242.4" y1="1967.8" x2="242.4" y2="1976.3" stroke="#000" stroke-width="3" stroke-linecap="butt"/>
<line x1="351.2" y1="1967.8" x2="351.2" y2="1976.3" stroke="#000" stroke-width="3" stroke-linecap="butt"/>
<line x1="446.5" y1="1967.8" x2="446.5" y2="1976.3" stroke="#000" stroke-width="3" stroke-linecap="butt"/>
<line x1="145.6" y1="1967.8" x2="145.6" y2="1973.0" stroke="#000" stroke-width="1.6" stroke-linecap="butt"/>
<line x1="150.5" y1="1967.8" x2="150.5" y2="1973.0" stroke="#000" stroke-width="1.6" stroke-linecap="butt"/>
<line x1="154.0" y1="1967.8" x2="154.0" y2="1973.0" stroke="#000" stroke-width="1.6" stroke-linecap="butt"/>
<line x1="157.5" y1="1967.8" x2="157.5" y2="1973.0" stroke="#000" stroke-width="1.6" stroke-linecap="butt"/>
<line x1="162.4" y1="1967.8" x2="162.4" y2="1973.0" stroke="#000" stroke-width="1.6" stroke-linecap="butt"/>
<line x1="166.0" y1="1967.8" x2="166.0" y2="1973.0" stroke="#000" stroke-width="1.6" stroke-linecap="butt"/>
<line x1="173.7" y1="1967.8" x2="173.7" y2="1973.0" stroke="#000" stroke-width="1.6" stroke-linecap="butt"/>
<line x1="177.9" y1="1967.8" x2="177.9" y2="1973.0" stroke="#000" stroke-width="1.6" stroke-linecap="butt"/>
<line x1="182.1" y1="1967.8" x2="182.1" y2="1973.0" stroke="#000" stroke-width="1.6" stroke-linecap="butt"/>
<line x1="187.0" y1="1967.8" x2="187.0" y2="1973.0" stroke="#000" stroke-width="1.6" stroke-linecap="butt"/>
<line x1="191.2" y1="1967.8" x2="191.2" y2="1973.0" stroke="#000" stroke-width="1.6" stroke-linecap="butt"/>
<line x1="194.7" y1="1967.8" x2="194.7" y2="1973.0" stroke="#000" stroke-width="1.6" stroke-linecap="butt"/>
<line x1="220.6" y1="1967.8" x2="220.6" y2="1973.0" stroke="#000" stroke-width="1.6" stroke-linecap="butt"/>
<line x1="224.8" y1="1967.8" x2="224.8" y2="1973.0" stroke="#000" stroke-width="1.6" stroke-linecap="butt"/>
<line x1="229.0" y1="1967.8" x2="229.0" y2="1973.0" stroke="#000" stroke-width="1.6" stroke-linecap="butt"/>
<line x1="232.5" y1="1967.8" x2="232.5" y2="1973.0" stroke="#000" stroke-width="1.6" stroke-linecap="butt"/>
<line x1="236.7" y1="1967.8" x2="236.7" y2="1973.0" stroke="#000" stroke-width="1.6" stroke-linecap="butt"/>
<line x1="247.3" y1="1967.8" x2="247.3" y2="1973.0" stroke="#000" stroke-width="1.6" stroke-linecap="butt"/>
<line x1="250.8" y1="1967.8" x2="250.8" y2="1973.0" stroke="#000" stroke-width="1.6" stroke-linecap="butt"/>
<line x1="255.0" y1="1967.8" x2="255.0" y2="1973.0" stroke="#000" stroke-width="1.6" stroke-linecap="butt"/>
<line x1="257.8" y1="1967.8" x2="257.8" y2="1973.0" stroke="#000" stroke-width="1.6" stroke-linecap="butt"/>
<line x1="262.0" y1="1967.8" x2="262.0" y2="1973.0" stroke="#000" stroke-width="1.6" stroke-linecap="butt"/>
<line x1="264.8" y1="1967.8" x2="264.8" y2="1973.0" stroke="#000" stroke-width="1.6" stroke-linecap="butt"/>
<line x1="267.6" y1="1967.8" x2="267.6" y2="1973.0" stroke="#000" stroke-width="1.6" stroke-linecap="butt"/>
<line x1="305.9" y1="1967.8" x2="305.9" y2="1973.0" stroke="#000" stroke-width="1.6" stroke-linecap="butt"/>
<line x1="325.4" y1="1967.8" x2="325.4" y2="1973.0" stroke="#000" stroke-width="1.6" stroke-linecap="butt"/>
<line x1="339.3" y1="1967.8" x2="339.3" y2="1973.0" stroke="#000" stroke-width="1.6" stroke-linecap="butt"/>
<line x1="345.2" y1="1967.8" x2="345.2" y2="1973.0" stroke="#000" stroke-width="1.6" stroke-linecap="butt"/>
<line x1="356.0" y1="1967.8" x2="356.0" y2="1973.0" stroke="#000" stroke-width="1.6" stroke-linecap="butt"/>
<line x1="359.5" y1="1967.8" x2="359.5" y2="1973.0" stroke="#000" stroke-width="1.6" stroke-linecap="butt"/>
<line x1="364.3" y1="1967.8" x2="364.3" y2="1973.0" stroke="#000" stroke-width="1.6" stroke-linecap="butt"/>
<line x1="369.0" y1="1967.8" x2="369.0" y2="1973.0" stroke="#000" stroke-width="1.6" stroke-linecap="butt"/>
<line x1="373.8" y1="1967.8" x2="373.8" y2="1973.0" stroke="#000" stroke-width="1.6" stroke-linecap="butt"/>
<line x1="409.6" y1="1967.8" x2="409.6" y2="1973.0" stroke="#000" stroke-width="1.6" stroke-linecap="butt"/>
<line x1="427.4" y1="1967.8" x2="427.4" y2="1973.0" stroke="#000" stroke-width="1.6" stroke-linecap="butt"/>
<line x1="438.2" y1="1967.8" x2="438.2" y2="1973.0" stroke="#000" stroke-width="1.6" stroke-linecap="butt"/>
<line x1="453.7" y1="1967.8" x2="453.7" y2="1973.0" stroke="#000" stroke-width="1.6" stroke-linecap="butt"/>
<line x1="458.4" y1="1967.8" x2="458.4" y2="1973.0" stroke="#000" stroke-width="1.6" stroke-linecap="butt"/>
<line x1="463.2" y1="1967.8" x2="463.2" y2="1973.0" stroke="#000" stroke-width="1.6" stroke-linecap="butt"/>
<line x1="468.0" y1="1967.8" x2="468.0" y2="1973.0" stroke="#000" stroke-width="1.6" stroke-linecap="butt"/>
<line x1="501.3" y1="1967.8" x2="501.3" y2="1973.0" stroke="#000" stroke-width="1.6" stroke-linecap="butt"/>
<path d="M197.5,1967.8 H215.7 V1979.3 H212.9 V1975.6 H208.5 V1979.3 H203.3 V1975.6 H201.0 V1979.3 H197.5 Z" fill="#000"/>
<text font-size="29.3" text-anchor="start" font-weight="normal" transform="translate(106.00,2006.10) scale(1,1.0)">-10<tspan font-size="17" dx="0.6" dy="-10">3</tspan></text>
<text font-size="29.3" text-anchor="middle" font-weight="normal" transform="translate(206.50,2006.10) scale(1,1.0)">0</text>
<text font-size="29.3" text-anchor="start" font-weight="normal" transform="translate(248.80,2006.10) scale(1,1.0)">10<tspan font-size="17" dx="0.6" dy="-10">3</tspan></text>
<text font-size="29.3" text-anchor="start" font-weight="normal" transform="translate(356.50,2006.10) scale(1,1.0)">10<tspan font-size="17" dx="0.6" dy="-10">4</tspan></text>
<text font-size="29.3" text-anchor="start" font-weight="normal" transform="translate(453.30,2006.10) scale(1,1.0)">10<tspan font-size="17" dx="0.6" dy="-10">5</tspan></text>
<text font-size="29.3" text-anchor="middle" font-weight="normal" transform="translate(313.00,2034.20) scale(1,1.0)">AF647_A</text>
<text font-size="29.3" text-anchor="middle" font-weight="normal" transform="translate(41.20,1790.60) rotate(-90) scale(1,1.0)">Count</text>
<rect x="255.1" y="1598.5" width="11.3" height="11.3" fill="#fff" stroke="#4ba3ff" stroke-width="1.6"/>
<text font-size="26.1" text-anchor="start" font-weight="normal" transform="translate(274.00,1609.10) scale(1,1.0)">Uninduced</text>
<rect x="255.1" y="1624.1" width="11.3" height="11.3" fill="#fff" stroke="#ff8282" stroke-width="1.6"/>
<text font-size="26.1" text-anchor="start" font-weight="normal" transform="translate(274.00,1634.70) scale(1,1.0)">25 mM Cyclo</text>
<rect x="255.1" y="1649.7" width="11.3" height="11.3" fill="#fff" stroke="#80ff00" stroke-width="1.6"/>
<text font-size="26.1" text-anchor="start" font-weight="normal" transform="translate(274.00,1660.30) scale(1,1.0)">50 mM Cyclo</text>
<rect x="255.1" y="1675.3" width="11.3" height="11.3" fill="#cfe4fa" stroke="#0a78ff" stroke-width="1.6"/>
<text font-size="26.1" text-anchor="start" font-weight="normal" transform="translate(274.00,1685.90) scale(1,1.0)">NaB</text>
<rect x="255.1" y="1700.9" width="11.3" height="11.3" fill="#fddcdc" stroke="#ff4040" stroke-width="1.6"/>
<text font-size="26.1" text-anchor="start" font-weight="normal" transform="translate(274.00,1711.50) scale(1,1.0)">NaB + 25 mM Cyclo</text>
<rect x="255.1" y="1726.5" width="11.3" height="11.3" fill="#d8fad8" stroke="#3cf53c" stroke-width="1.6"/>
<text font-size="26.1" text-anchor="start" font-weight="normal" transform="translate(274.00,1737.10) scale(1,1.0)">NaB + 50 mM Cyclo</text>
<text font-size="38.5" text-anchor="start" font-weight="bold" transform="translate(-0.30,1585.90) scale(1,1.0)">E</text>
<path d="M109.9,2473.8 L195.0,2473.8 L200.0,2466.0 L204.0,2432.0 L207.0,2360.0 L209.5,2295.0 L212.0,2270.0 L215.0,2252.0 L218.6,2245.8 L223.7,2240.2 L227.1,2235.0 L230.0,2238.0 L233.5,2234.0 L238.0,2236.0 L241.5,2240.0 L245.0,2250.0 L248.0,2262.0 L252.0,2268.0 L256.0,2280.0 L260.5,2292.0 L264.0,2305.0 L267.1,2301.7 L270.0,2315.0 L275.0,2330.0 L280.0,2342.0 L287.3,2352.5 L292.0,2365.0 L297.0,2377.0 L302.0,2390.0 L308.0,2403.0 L314.0,2415.0 L320.0,2427.0 L326.8,2443.6 L332.8,2454.1 L340.3,2461.6 L349.3,2467.6 L360.0,2471.0 L372.0,2473.8 L506.5,2473.8 Z" fill="rgba(0,230,0,0.41)" stroke="none"/>
<path d="M109.9,2473.8 L195.0,2473.8 L200.0,2466.0 L204.0,2432.0 L207.0,2360.0 L209.5,2295.0 L212.0,2270.0 L215.0,2252.0 L218.6,2245.8 L223.7,2240.2 L227.1,2235.0 L230.0,2238.0 L233.5,2234.0 L238.0,2236.0 L241.5,2240.0 L245.0,2250.0 L248.0,2262.0 L252.0,2268.0 L256.0,2280.0 L260.5,2292.0 L264.0,2305.0 L267.1,2301.7 L270.0,2315.0 L275.0,2330.0 L280.0,2342.0 L287.3,2352.5 L292.0,2365.0 L297.0,2377.0 L302.0,2390.0 L308.0,2403.0 L314.0,2415.0 L320.0,2427.0 L326.8,2443.6 L332.8,2454.1 L340.3,2461.6 L349.3,2467.6 L360.0,2471.0 L372.0,2473.8 L506.5,2473.8" fill="none" stroke="#1ee61e" stroke-width="3.3" stroke-linejoin="round" stroke-linecap="round"/>
<path d="M109.9,2473.8 L195.0,2473.8 L200.0,2465.0 L203.7,2429.5 L206.7,2354.8 L208.9,2290.0 L210.8,2275.0 L213.0,2260.0 L215.3,2245.8 L217.5,2237.9 L220.9,2237.9 L223.7,2231.2 L227.1,2237.9 L229.9,2234.6 L233.2,2231.2 L237.7,2232.3 L241.1,2236.8 L244.4,2245.8 L246.7,2257.0 L250.0,2262.8 L255.9,2277.8 L260.4,2289.7 L263.4,2307.7 L267.9,2319.6 L273.9,2330.1 L278.4,2340.6 L284.3,2355.5 L290.9,2368.9 L295.4,2377.9 L299.9,2388.0 L305.0,2400.0 L311.0,2411.0 L317.0,2424.0 L323.0,2434.0 L329.0,2441.0 L335.0,2449.0 L342.0,2457.0 L350.0,2463.0 L360.0,2469.0 L372.0,2473.8 L506.5,2473.8 Z" fill="rgba(255,0,128,0.41)" stroke="none"/>
<path d="M109.9,2473.8 L195.0,2473.8 L200.0,2465.0 L203.7,2429.5 L206.7,2354.8 L208.9,2290.0 L210.8,2275.0 L213.0,2260.0 L215.3,2245.8 L217.5,2237.9 L220.9,2237.9 L223.7,2231.2 L227.1,2237.9 L229.9,2234.6 L233.2,2231.2 L237.7,2232.3 L241.1,2236.8 L244.4,2245.8 L246.7,2257.0 L250.0,2262.8 L255.9,2277.8 L260.4,2289.7 L263.4,2307.7 L267.9,2319.6 L273.9,2330.1 L278.4,2340.6 L284.3,2355.5 L290.9,2368.9 L295.4,2377.9 L299.9,2388.0 L305.0,2400.0 L311.0,2411.0 L317.0,2424.0 L323.0,2434.0 L329.0,2441.0 L335.0,2449.0 L342.0,2457.0 L350.0,2463.0 L360.0,2469.0 L372.0,2473.8 L506.5,2473.8" fill="none" stroke="#ff0a80" stroke-width="3.3" stroke-linejoin="round" stroke-linecap="round"/>
<path d="M109.9,2473.8 L196.0,2473.8 L201.4,2472.9 L205.9,2429.5 L208.2,2354.8 L210.4,2300.0 L214.2,2268.2 L216.4,2259.2 L220.9,2254.8 L223.7,2250.3 L227.1,2257.0 L229.9,2248.0 L234.3,2240.2 L237.7,2232.3 L241.1,2240.2 L244.4,2251.4 L246.7,2264.9 L251.2,2264.9 L254.0,2266.0 L256.8,2279.4 L261.3,2288.4 L264.9,2301.7 L267.9,2310.7 L270.9,2319.6 L274.6,2324.1 L278.4,2321.1 L279.9,2334.6 L281.4,2346.5 L284.3,2355.5 L289.4,2365.9 L293.9,2373.4 L296.9,2379.3 L299.9,2388.3 L302.9,2398.8 L307.4,2407.8 L311.9,2413.7 L314.9,2419.7 L317.9,2427.2 L322.3,2434.7 L326.8,2440.7 L332.8,2448.1 L338.8,2455.6 L346.3,2461.6 L353.7,2466.1 L362.7,2470.6 L371.7,2472.8 L380.0,2473.8 L506.5,2473.8 Z" fill="rgba(30,130,255,0.45)" stroke="none"/>
<path d="M109.9,2473.8 L196.0,2473.8 L201.4,2472.9 L205.9,2429.5 L208.2,2354.8 L210.4,2300.0 L214.2,2268.2 L216.4,2259.2 L220.9,2254.8 L223.7,2250.3 L227.1,2257.0 L229.9,2248.0 L234.3,2240.2 L237.7,2232.3 L241.1,2240.2 L244.4,2251.4 L246.7,2264.9 L251.2,2264.9 L254.0,2266.0 L256.8,2279.4 L261.3,2288.4 L264.9,2301.7 L267.9,2310.7 L270.9,2319.6 L274.6,2324.1 L278.4,2321.1 L279.9,2334.6 L281.4,2346.5 L284.3,2355.5 L289.4,2365.9 L293.9,2373.4 L296.9,2379.3 L299.9,2388.3 L302.9,2398.8 L307.4,2407.8 L311.9,2413.7 L314.9,2419.7 L317.9,2427.2 L322.3,2434.7 L326.8,2440.7 L332.8,2448.1 L338.8,2455.6 L346.3,2461.6 L353.7,2466.1 L362.7,2470.6 L371.7,2472.8 L380.0,2473.8 L506.5,2473.8" fill="none" stroke="#1e82ff" stroke-width="3.3" stroke-linejoin="round" stroke-linecap="round"/>
<path d="M109.9,2473.8 L196.0,2473.8 L201.4,2472.9 L207.4,2444.5 L211.9,2384.7 L216.4,2339.8 L222.4,2302.4 L227.6,2290.6 L232.1,2281.7 L236.6,2274.9 L241.1,2268.2 L244.0,2264.3 L248.5,2270.3 L251.4,2288.2 L255.9,2276.3 L260.4,2276.3 L262.7,2268.8 L265.7,2279.3 L268.6,2291.2 L271.6,2301.7 L274.6,2319.6 L277.6,2312.1 L279.9,2309.9 L284.3,2315.1 L288.1,2315.1 L290.3,2321.1 L292.6,2333.1 L295.6,2343.5 L299.9,2352.4 L302.9,2367.4 L305.9,2385.3 L310.4,2377.9 L313.4,2386.8 L316.4,2398.8 L320.8,2409.3 L325.3,2421.2 L329.8,2425.7 L334.3,2433.2 L338.8,2439.2 L343.3,2446.6 L349.3,2451.1 L355.2,2458.6 L361.2,2464.6 L368.7,2467.6 L377.7,2470.6 L388.1,2472.8 L395.6,2473.6 L405.0,2473.8 L506.5,2473.8 Z" fill="rgba(128,128,128,0.2)" stroke="none"/>
<path d="M109.9,2473.8 L196.0,2473.8 L201.4,2472.9 L207.4,2444.5 L211.9,2384.7 L216.4,2339.8 L222.4,2302.4 L227.6,2290.6 L232.1,2281.7 L236.6,2274.9 L241.1,2268.2 L244.0,2264.3 L248.5,2270.3 L251.4,2288.2 L255.9,2276.3 L260.4,2276.3 L262.7,2268.8 L265.7,2279.3 L268.6,2291.2 L271.6,2301.7 L274.6,2319.6 L277.6,2312.1 L279.9,2309.9 L284.3,2315.1 L288.1,2315.1 L290.3,2321.1 L292.6,2333.1 L295.6,2343.5 L299.9,2352.4 L302.9,2367.4 L305.9,2385.3 L310.4,2377.9 L313.4,2386.8 L316.4,2398.8 L320.8,2409.3 L325.3,2421.2 L329.8,2425.7 L334.3,2433.2 L338.8,2439.2 L343.3,2446.6 L349.3,2451.1 L355.2,2458.6 L361.2,2464.6 L368.7,2467.6 L377.7,2470.6 L388.1,2472.8 L395.6,2473.6 L405.0,2473.8 L506.5,2473.8" fill="none" stroke="#808080" stroke-width="3.3" stroke-linejoin="round" stroke-linecap="round"/>
<path d="M109.9,2473.8 L196.0,2473.8 L201.0,2430.0 L203.0,2354.8 L205.5,2280.0 L208.0,2200.0 L210.5,2140.0 L213.0,2118.0 L216.0,2125.0 L220.9,2133.6 L224.3,2167.3 L227.6,2189.7 L233.2,2212.1 L236.6,2234.6 L241.1,2266.0 L246.0,2295.0 L252.0,2310.0 L258.0,2330.0 L264.0,2350.0 L270.0,2372.0 L280.0,2384.0 L293.9,2405.7 L305.9,2422.7 L314.9,2437.7 L326.8,2445.0 L340.0,2457.0 L355.0,2465.0 L370.0,2471.0 L385.0,2473.8 L506.5,2473.8" fill="none" stroke="#99ff33" stroke-width="3.3" stroke-linejoin="round" stroke-linecap="round"/>
<path d="M109.9,2473.8 L195.0,2473.8 L199.5,2460.0 L201.8,2354.8 L203.5,2300.0 L205.2,2234.6 L207.4,2167.3 L209.1,2116.8 L212.5,2104.5 L215.3,2109.0 L217.5,2128.0 L219.8,2144.9 L222.0,2178.5 L224.3,2184.1 L227.6,2200.9 L232.1,2223.4 L236.0,2250.0 L240.0,2272.0 L243.0,2295.0 L247.0,2308.9 L252.9,2304.7 L255.9,2316.6 L258.9,2328.6 L261.9,2343.5 L266.4,2360.0 L270.0,2382.3 L276.0,2386.8 L282.0,2392.8 L286.4,2392.8 L289.4,2401.8 L292.4,2413.7 L296.9,2416.7 L302.9,2419.7 L308.9,2427.2 L314.9,2433.2 L320.8,2436.2 L326.8,2443.6 L332.8,2451.1 L338.8,2454.1 L346.3,2458.6 L353.7,2463.1 L362.7,2469.1 L375.0,2473.5 L385.0,2473.8 L506.5,2473.8" fill="none" stroke="#ff80c0" stroke-width="3.3" stroke-linejoin="round" stroke-linecap="round"/>
<path d="M109.9,2473.8 L195.0,2473.8 L200.0,2460.0 L202.2,2354.8 L205.2,2300.0 L206.9,2234.6 L209.1,2167.3 L210.8,2128.0 L213.0,2120.2 L216.4,2139.3 L218.6,2144.9 L222.0,2167.3 L223.7,2176.3 L227.1,2180.7 L229.9,2200.9 L234.3,2229.0 L235.5,2244.9 L237.7,2252.0 L239.5,2267.3 L244.0,2289.7 L248.5,2307.7 L252.9,2319.6 L255.9,2331.6 L258.9,2348.0 L261.9,2351.0 L264.9,2360.0 L270.0,2380.8 L276.0,2380.8 L282.0,2386.8 L286.4,2391.3 L290.9,2398.8 L295.4,2406.3 L299.9,2407.8 L305.9,2415.2 L311.9,2422.7 L317.9,2430.2 L323.8,2439.2 L329.8,2446.6 L335.8,2452.6 L341.8,2458.6 L349.3,2461.6 L356.7,2466.1 L365.7,2470.6 L377.7,2473.6 L390.0,2473.8 L506.5,2473.8" fill="none" stroke="#3399ff" stroke-width="3.3" stroke-linejoin="round" stroke-linecap="round"/>
<path d="M109.9,2473.8 L194.0,2472.9 L198.5,2463.9 L201.4,2429.5 L203.7,2354.8 L205.2,2300.0 L206.9,2257.0 L209.1,2212.1 L210.8,2178.5 L212.5,2167.3 L214.7,2172.9 L217.5,2192.0 L220.9,2183.0 L223.7,2187.5 L226.5,2212.1 L229.9,2229.0 L233.2,2245.8 L235.0,2258.0 L239.5,2274.8 L244.0,2289.7 L247.0,2304.7 L250.0,2319.6 L254.4,2328.6 L258.9,2342.0 L264.2,2337.6 L267.1,2349.5 L270.0,2362.9 L274.5,2365.9 L279.0,2374.9 L283.5,2382.3 L287.9,2383.8 L292.4,2391.3 L296.9,2394.3 L299.9,2401.8 L304.4,2410.7 L308.9,2415.2 L313.4,2418.2 L317.9,2419.7 L322.3,2427.2 L326.8,2428.7 L331.3,2434.7 L335.8,2442.2 L341.8,2448.1 L347.8,2449.6 L353.7,2455.6 L359.7,2463.1 L367.2,2466.1 L374.7,2468.3 L383.6,2470.6 L394.1,2472.8 L405.0,2473.8 L506.5,2473.8" fill="none" stroke="#4d4d4d" stroke-width="3.3" stroke-linejoin="round" stroke-linecap="round"/>
<rect x="109.9" y="2079.2" width="396.6" height="396.1" fill="none" stroke="#000" stroke-width="1.5"/>
<line x1="98.9" y1="2474.3" x2="109.9" y2="2474.3" stroke="#000" stroke-width="3.2" stroke-linecap="butt"/>
<text font-size="29.3" text-anchor="end" font-weight="normal" transform="translate(96.30,2482.90) scale(1,1.0)">0</text>
<line x1="104.9" y1="2460.9" x2="109.9" y2="2460.9" stroke="#000" stroke-width="1.5" stroke-linecap="butt"/>
<line x1="104.9" y1="2447.4" x2="109.9" y2="2447.4" stroke="#000" stroke-width="1.5" stroke-linecap="butt"/>
<line x1="104.9" y1="2434.0" x2="109.9" y2="2434.0" stroke="#000" stroke-width="1.5" stroke-linecap="butt"/>
<line x1="104.9" y1="2420.5" x2="109.9" y2="2420.5" stroke="#000" stroke-width="1.5" stroke-linecap="butt"/>
<line x1="98.9" y1="2407.1" x2="109.9" y2="2407.1" stroke="#000" stroke-width="3.2" stroke-linecap="butt"/>
<text font-size="29.3" text-anchor="end" font-weight="normal" transform="translate(96.30,2415.65) scale(1,1.0)">50</text>
<line x1="104.9" y1="2393.6" x2="109.9" y2="2393.6" stroke="#000" stroke-width="1.5" stroke-linecap="butt"/>
<line x1="104.9" y1="2380.2" x2="109.9" y2="2380.2" stroke="#000" stroke-width="1.5" stroke-linecap="butt"/>
<line x1="104.9" y1="2366.7" x2="109.9" y2="2366.7" stroke="#000" stroke-width="1.5" stroke-linecap="butt"/>
<line x1="104.9" y1="2353.2" x2="109.9" y2="2353.2" stroke="#000" stroke-width="1.5" stroke-linecap="butt"/>
<line x1="98.9" y1="2339.8" x2="109.9" y2="2339.8" stroke="#000" stroke-width="3.2" stroke-linecap="butt"/>
<text font-size="29.3" text-anchor="end" font-weight="normal" transform="translate(96.30,2348.40) scale(1,1.0)">100</text>
<line x1="104.9" y1="2326.4" x2="109.9" y2="2326.4" stroke="#000" stroke-width="1.5" stroke-linecap="butt"/>
<line x1="104.9" y1="2312.9" x2="109.9" y2="2312.9" stroke="#000" stroke-width="1.5" stroke-linecap="butt"/>
<line x1="104.9" y1="2299.5" x2="109.9" y2="2299.5" stroke="#000" stroke-width="1.5" stroke-linecap="butt"/>
<line x1="104.9" y1="2286.0" x2="109.9" y2="2286.0" stroke="#000" stroke-width="1.5" stroke-linecap="butt"/>
<line x1="98.9" y1="2272.6" x2="109.9" y2="2272.6" stroke="#000" stroke-width="3.2" stroke-linecap="butt"/>
<text font-size="29.3" text-anchor="end" font-weight="normal" transform="translate(96.30,2281.15) scale(1,1.0)">150</text>
<line x1="104.9" y1="2259.1" x2="109.9" y2="2259.1" stroke="#000" stroke-width="1.5" stroke-linecap="butt"/>
<line x1="104.9" y1="2245.7" x2="109.9" y2="2245.7" stroke="#000" stroke-width="1.5" stroke-linecap="butt"/>
<line x1="104.9" y1="2232.2" x2="109.9" y2="2232.2" stroke="#000" stroke-width="1.5" stroke-linecap="butt"/>
<line x1="104.9" y1="2218.8" x2="109.9" y2="2218.8" stroke="#000" stroke-width="1.5" stroke-linecap="butt"/>
<line x1="98.9" y1="2205.3" x2="109.9" y2="2205.3" stroke="#000" stroke-width="3.2" stroke-linecap="butt"/>
<text font-size="29.3" text-anchor="end" font-weight="normal" transform="translate(96.30,2213.90) scale(1,1.0)">200</text>
<line x1="104.9" y1="2191.9" x2="109.9" y2="2191.9" stroke="#000" stroke-width="1.5" stroke-linecap="butt"/>
<line x1="104.9" y1="2178.4" x2="109.9" y2="2178.4" stroke="#000" stroke-width="1.5" stroke-linecap="butt"/>
<line x1="104.9" y1="2165.0" x2="109.9" y2="2165.0" stroke="#000" stroke-width="1.5" stroke-linecap="butt"/>
<line x1="104.9" y1="2151.5" x2="109.9" y2="2151.5" stroke="#000" stroke-width="1.5" stroke-linecap="butt"/>
<line x1="98.9" y1="2138.1" x2="109.9" y2="2138.1" stroke="#000" stroke-width="3.2" stroke-linecap="butt"/>
<text font-size="29.3" text-anchor="end" font-weight="normal" transform="translate(96.30,2146.65) scale(1,1.0)">250</text>
<line x1="104.9" y1="2124.6" x2="109.9" y2="2124.6" stroke="#000" stroke-width="1.5" stroke-linecap="butt"/>
<line x1="104.9" y1="2111.2" x2="109.9" y2="2111.2" stroke="#000" stroke-width="1.5" stroke-linecap="butt"/>
<line x1="104.9" y1="2097.7" x2="109.9" y2="2097.7" stroke="#000" stroke-width="1.5" stroke-linecap="butt"/>
<line x1="104.9" y1="2084.2" x2="109.9" y2="2084.2" stroke="#000" stroke-width="1.5" stroke-linecap="butt"/>
<line x1="134.6" y1="2475.3" x2="134.6" y2="2486.8" stroke="#000" stroke-width="3.2" stroke-linecap="butt"/>
<line x1="265.0" y1="2475.3" x2="265.0" y2="2486.8" stroke="#000" stroke-width="3.2" stroke-linecap="butt"/>
<line x1="372.5" y1="2475.3" x2="372.5" y2="2486.8" stroke="#000" stroke-width="3.2" stroke-linecap="butt"/>
<line x1="467.1" y1="2475.3" x2="467.1" y2="2486.8" stroke="#000" stroke-width="3.2" stroke-linecap="butt"/>
<line x1="162.7" y1="2475.3" x2="162.7" y2="2483.8" stroke="#000" stroke-width="3" stroke-linecap="butt"/>
<line x1="235.6" y1="2475.3" x2="235.6" y2="2483.8" stroke="#000" stroke-width="3" stroke-linecap="butt"/>
<line x1="344.4" y1="2475.3" x2="344.4" y2="2483.8" stroke="#000" stroke-width="3" stroke-linecap="butt"/>
<line x1="439.7" y1="2475.3" x2="439.7" y2="2483.8" stroke="#000" stroke-width="3" stroke-linecap="butt"/>
<line x1="138.8" y1="2475.3" x2="138.8" y2="2480.5" stroke="#000" stroke-width="1.6" stroke-linecap="butt"/>
<line x1="143.7" y1="2475.3" x2="143.7" y2="2480.5" stroke="#000" stroke-width="1.6" stroke-linecap="butt"/>
<line x1="147.2" y1="2475.3" x2="147.2" y2="2480.5" stroke="#000" stroke-width="1.6" stroke-linecap="butt"/>
<line x1="150.7" y1="2475.3" x2="150.7" y2="2480.5" stroke="#000" stroke-width="1.6" stroke-linecap="butt"/>
<line x1="155.6" y1="2475.3" x2="155.6" y2="2480.5" stroke="#000" stroke-width="1.6" stroke-linecap="butt"/>
<line x1="159.2" y1="2475.3" x2="159.2" y2="2480.5" stroke="#000" stroke-width="1.6" stroke-linecap="butt"/>
<line x1="166.9" y1="2475.3" x2="166.9" y2="2480.5" stroke="#000" stroke-width="1.6" stroke-linecap="butt"/>
<line x1="171.1" y1="2475.3" x2="171.1" y2="2480.5" stroke="#000" stroke-width="1.6" stroke-linecap="butt"/>
<line x1="175.3" y1="2475.3" x2="175.3" y2="2480.5" stroke="#000" stroke-width="1.6" stroke-linecap="butt"/>
<line x1="180.2" y1="2475.3" x2="180.2" y2="2480.5" stroke="#000" stroke-width="1.6" stroke-linecap="butt"/>
<line x1="184.4" y1="2475.3" x2="184.4" y2="2480.5" stroke="#000" stroke-width="1.6" stroke-linecap="butt"/>
<line x1="187.9" y1="2475.3" x2="187.9" y2="2480.5" stroke="#000" stroke-width="1.6" stroke-linecap="butt"/>
<line x1="213.8" y1="2475.3" x2="213.8" y2="2480.5" stroke="#000" stroke-width="1.6" stroke-linecap="butt"/>
<line x1="218.0" y1="2475.3" x2="218.0" y2="2480.5" stroke="#000" stroke-width="1.6" stroke-linecap="butt"/>
<line x1="222.2" y1="2475.3" x2="222.2" y2="2480.5" stroke="#000" stroke-width="1.6" stroke-linecap="butt"/>
<line x1="225.7" y1="2475.3" x2="225.7" y2="2480.5" stroke="#000" stroke-width="1.6" stroke-linecap="butt"/>
<line x1="229.9" y1="2475.3" x2="229.9" y2="2480.5" stroke="#000" stroke-width="1.6" stroke-linecap="butt"/>
<line x1="240.5" y1="2475.3" x2="240.5" y2="2480.5" stroke="#000" stroke-width="1.6" stroke-linecap="butt"/>
<line x1="244.0" y1="2475.3" x2="244.0" y2="2480.5" stroke="#000" stroke-width="1.6" stroke-linecap="butt"/>
<line x1="248.2" y1="2475.3" x2="248.2" y2="2480.5" stroke="#000" stroke-width="1.6" stroke-linecap="butt"/>
<line x1="251.0" y1="2475.3" x2="251.0" y2="2480.5" stroke="#000" stroke-width="1.6" stroke-linecap="butt"/>
<line x1="255.2" y1="2475.3" x2="255.2" y2="2480.5" stroke="#000" stroke-width="1.6" stroke-linecap="butt"/>
<line x1="258.0" y1="2475.3" x2="258.0" y2="2480.5" stroke="#000" stroke-width="1.6" stroke-linecap="butt"/>
<line x1="260.8" y1="2475.3" x2="260.8" y2="2480.5" stroke="#000" stroke-width="1.6" stroke-linecap="butt"/>
<line x1="299.1" y1="2475.3" x2="299.1" y2="2480.5" stroke="#000" stroke-width="1.6" stroke-linecap="butt"/>
<line x1="318.6" y1="2475.3" x2="318.6" y2="2480.5" stroke="#000" stroke-width="1.6" stroke-linecap="butt"/>
<line x1="332.5" y1="2475.3" x2="332.5" y2="2480.5" stroke="#000" stroke-width="1.6" stroke-linecap="butt"/>
<line x1="338.4" y1="2475.3" x2="338.4" y2="2480.5" stroke="#000" stroke-width="1.6" stroke-linecap="butt"/>
<line x1="349.2" y1="2475.3" x2="349.2" y2="2480.5" stroke="#000" stroke-width="1.6" stroke-linecap="butt"/>
<line x1="352.7" y1="2475.3" x2="352.7" y2="2480.5" stroke="#000" stroke-width="1.6" stroke-linecap="butt"/>
<line x1="357.5" y1="2475.3" x2="357.5" y2="2480.5" stroke="#000" stroke-width="1.6" stroke-linecap="butt"/>
<line x1="362.2" y1="2475.3" x2="362.2" y2="2480.5" stroke="#000" stroke-width="1.6" stroke-linecap="butt"/>
<line x1="367.0" y1="2475.3" x2="367.0" y2="2480.5" stroke="#000" stroke-width="1.6" stroke-linecap="butt"/>
<line x1="402.8" y1="2475.3" x2="402.8" y2="2480.5" stroke="#000" stroke-width="1.6" stroke-linecap="butt"/>
<line x1="420.6" y1="2475.3" x2="420.6" y2="2480.5" stroke="#000" stroke-width="1.6" stroke-linecap="butt"/>
<line x1="431.4" y1="2475.3" x2="431.4" y2="2480.5" stroke="#000" stroke-width="1.6" stroke-linecap="butt"/>
<line x1="446.9" y1="2475.3" x2="446.9" y2="2480.5" stroke="#000" stroke-width="1.6" stroke-linecap="butt"/>
<line x1="451.6" y1="2475.3" x2="451.6" y2="2480.5" stroke="#000" stroke-width="1.6" stroke-linecap="butt"/>
<line x1="456.4" y1="2475.3" x2="456.4" y2="2480.5" stroke="#000" stroke-width="1.6" stroke-linecap="butt"/>
<line x1="461.2" y1="2475.3" x2="461.2" y2="2480.5" stroke="#000" stroke-width="1.6" stroke-linecap="butt"/>
<line x1="494.5" y1="2475.3" x2="494.5" y2="2480.5" stroke="#000" stroke-width="1.6" stroke-linecap="butt"/>
<path d="M190.7,2475.3 H208.9 V2486.8 H206.1 V2483.1 H201.7 V2486.8 H196.5 V2483.1 H194.2 V2486.8 H190.7 Z" fill="#000"/>
<text font-size="29.3" text-anchor="start" font-weight="normal" transform="translate(99.20,2513.60) scale(1,1.0)">-10<tspan font-size="17" dx="0.6" dy="-10">3</tspan></text>
<text font-size="29.3" text-anchor="middle" font-weight="normal" transform="translate(199.70,2513.60) scale(1,1.0)">0</text>
<text font-size="29.3" text-anchor="start" font-weight="normal" transform="translate(245.60,2513.60) scale(1,1.0)">10<tspan font-size="17" dx="0.6" dy="-10">3</tspan></text>
<text font-size="29.3" text-anchor="start" font-weight="normal" transform="translate(353.20,2513.60) scale(1,1.0)">10<tspan font-size="17" dx="0.6" dy="-10">4</tspan></text>
<text font-size="29.3" text-anchor="start" font-weight="normal" transform="translate(450.00,2513.60) scale(1,1.0)">10<tspan font-size="17" dx="0.6" dy="-10">5</tspan></text>
<text font-size="29.3" text-anchor="middle" font-weight="normal" transform="translate(309.80,2540.90) scale(1,1.0)">AF647_A</text>
<text font-size="29.3" text-anchor="middle" font-weight="normal" transform="translate(34.50,2304.70) rotate(-90) scale(1,1.0)">Count</text>
<rect x="254.6" y="2090.4" width="11.0" height="11.0" fill="#fff" stroke="#4d4d4d" stroke-width="1.6"/>
<text font-size="26.1" text-anchor="start" font-weight="normal" transform="translate(273.60,2101.70) scale(1,1.0)">Uninduced</text>
<rect x="254.6" y="2112.1" width="11.0" height="11.0" fill="#fff" stroke="#3399ff" stroke-width="1.6"/>
<text font-size="26.1" text-anchor="start" font-weight="normal" transform="translate(273.60,2123.40) scale(1,1.0)">0.5 mM SAM</text>
<rect x="254.6" y="2133.8" width="11.0" height="11.0" fill="#fff" stroke="#ff80c0" stroke-width="1.6"/>
<text font-size="26.1" text-anchor="start" font-weight="normal" transform="translate(273.60,2145.10) scale(1,1.0)">1 mM SAM</text>
<rect x="254.6" y="2155.5" width="11.0" height="11.0" fill="#fff" stroke="#99ff33" stroke-width="1.6"/>
<text font-size="26.1" text-anchor="start" font-weight="normal" transform="translate(273.60,2166.80) scale(1,1.0)">2 mM SAM</text>
<rect x="254.6" y="2177.2" width="11.0" height="11.0" fill="#e3e3e3" stroke="#808080" stroke-width="1.6"/>
<text font-size="26.1" text-anchor="start" font-weight="normal" transform="translate(273.60,2188.50) scale(1,1.0)">NaB</text>
<rect x="254.6" y="2198.9" width="11.0" height="11.0" fill="#99c7fa" stroke="#3399ff" stroke-width="1.6"/>
<text font-size="26.1" text-anchor="start" font-weight="normal" transform="translate(273.60,2210.20) scale(1,1.0)">NaB + 0.5 mM SAM</text>
<rect x="254.6" y="2220.6" width="11.0" height="11.0" fill="#fa96c8" stroke="#ff0a80" stroke-width="1.6"/>
<text font-size="26.1" text-anchor="start" font-weight="normal" transform="translate(273.60,2231.90) scale(1,1.0)">NaB + 1 mM SAM</text>
<rect x="254.6" y="2242.3" width="11.0" height="11.0" fill="#96f596" stroke="#1ee61e" stroke-width="1.6"/>
<text font-size="26.1" text-anchor="start" font-weight="normal" transform="translate(273.60,2253.60) scale(1,1.0)">NaB + 2 mM SAM</text>
<text font-size="38.5" text-anchor="start" font-weight="bold" transform="translate(0.30,2090.80) scale(1,1.0)">F</text>
</svg></body></html>
